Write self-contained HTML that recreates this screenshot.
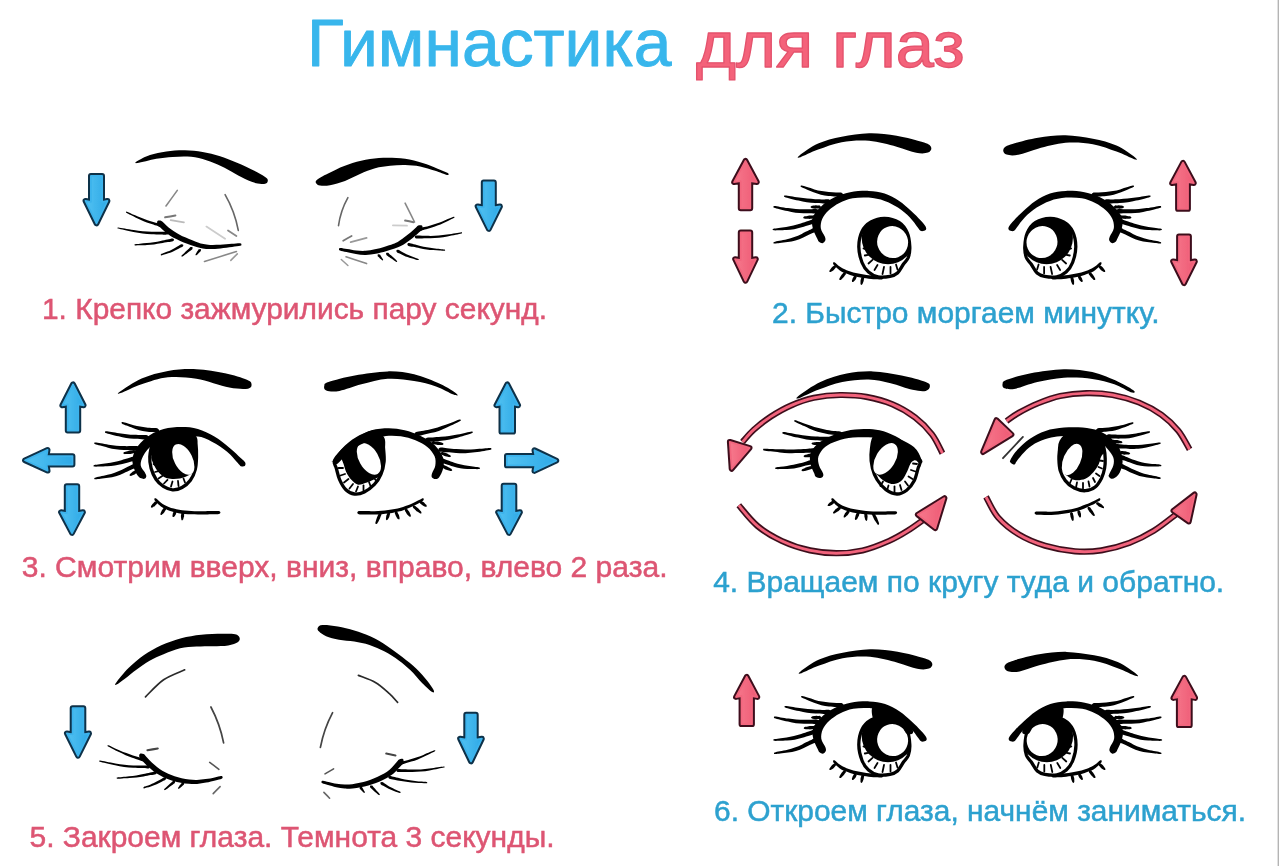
<!DOCTYPE html>
<html lang="ru">
<head>
<meta charset="utf-8">
<title>Гимнастика для глаз</title>
<style>
html,body{margin:0;padding:0;background:#fff;overflow:hidden}
svg{display:block}
text{font-family:"Liberation Sans",sans-serif}
.ttl{font-size:66.5px;stroke-linejoin:round}
.cap{font-size:29.6px;stroke-width:0.5px}
.red{fill:#dd5573;stroke:#dd5573}
.blue{fill:#2da1cf;stroke:#2da1cf}
.abo{fill:#0f3048;stroke:#0f3048;stroke-width:5.8;stroke-linejoin:round}
.ab{fill:url(#gb);stroke:#3cb3ec;stroke-width:1.8;stroke-linejoin:round}
.apo{fill:#3e101c;stroke:#3e101c;stroke-width:5.8;stroke-linejoin:round}
.ap{fill:url(#gp);stroke:#f2667e;stroke-width:1.8;stroke-linejoin:round}
.tk{stroke:#050505;stroke-linecap:round;fill:none}
</style>
</head>
<body>
<svg width="1279" height="866" viewBox="0 0 1279 866">
<defs>
<linearGradient id="gb" x1="0" y1="0" x2="1" y2="0"><stop offset="0" stop-color="#52c2f2"/><stop offset="1" stop-color="#2ea9e6"/></linearGradient>
<linearGradient id="gp" x1="0" y1="0" x2="1" y2="0"><stop offset="0" stop-color="#f6788c"/><stop offset="1" stop-color="#ee5a74"/></linearGradient>
<filter id="soft" x="0" y="0" width="1279" height="866" filterUnits="userSpaceOnUse"><feGaussianBlur stdDeviation="0.42"/></filter>
</defs>
<rect width="1279" height="866" fill="#ffffff"/>
<rect x="1277.6" y="0" width="1.4" height="866" fill="#b4b4b4"/>
<g filter="url(#soft)">
<!-- TITLE -->
<text class="ttl" x="307" y="66.2" textLength="364.4" lengthAdjust="spacingAndGlyphs" fill="#38b6ec" stroke="#38b6ec" stroke-width="0.9">Гимнастика</text>
<text class="ttl" style="font-size:65.5px" x="696" y="66.8" textLength="268.6" lengthAdjust="spacingAndGlyphs" fill="#f4627a" stroke="#e4536d" stroke-width="1.3">для глаз</text>
<!-- CAPTIONS -->
<text class="cap red" x="42" y="318.5" textLength="505" lengthAdjust="spacingAndGlyphs">1. Крепко зажмурились пару секунд.</text>
<text class="cap blue" x="772" y="322.7" textLength="387.5" lengthAdjust="spacingAndGlyphs">2. Быстро моргаем минутку.</text>
<text class="cap red" x="21.7" y="577" textLength="645.8" lengthAdjust="spacingAndGlyphs">3. Смотрим вверх, вниз, вправо, влево 2 раза.</text>
<text class="cap blue" x="713.2" y="592" textLength="511" lengthAdjust="spacingAndGlyphs">4. Вращаем по кругу туда и обратно.</text>
<text class="cap red" x="29.5" y="847" textLength="525" lengthAdjust="spacingAndGlyphs">5. Закроем глаза. Темнота 3 секунды.</text>
<text class="cap blue" x="714" y="820.5" textLength="532" lengthAdjust="spacingAndGlyphs">6. Откроем глаза, начнём заниматься.</text>
<g fill="#050505">
<g id="p1">
<path class="abo" d="M90.9 175.9L102.1 175.9L102.1 201.9L107.5 200.9L96.5 223.4L85.5 200.9L90.9 201.9Z"/><path class="ab" d="M90.9 175.9L102.1 175.9L102.1 201.9L107.5 200.9L96.5 223.4L85.5 200.9L90.9 201.9Z"/>
<path class="abo" d="M483.7 182.4L493.9 182.4L493.9 207.4L500 206.4L488.8 229L477.6 206.4L483.7 207.4Z"/><path class="ab" d="M483.7 182.4L493.9 182.4L493.9 207.4L500 206.4L488.8 229L477.6 206.4L483.7 207.4Z"/>
<path d="M136.9 161.3C139 160 145.1 156.6 150 155C154.9 153.4 160.5 152.3 166.3 151.5C172.1 150.7 178.9 150.2 185 150.3C191.1 150.4 196.8 150.9 202.6 151.9C208.4 152.9 214.3 154.4 220.1 156.3C225.9 158.2 232 160.7 237.6 163.1C243.2 165.5 249.2 168.3 253.8 170.6C258.4 172.9 262.8 175.3 265.1 176.9C267.4 178.5 267.7 178.9 267.8 180C267.9 181.1 267.6 182.8 265.9 183.4C264.2 184 261.1 184.3 257.6 183.6C254.1 182.9 249.5 181 245.1 179C240.7 177 235.9 173.9 231.3 171.5C226.7 169.1 222.4 166.7 217.6 164.6C212.8 162.5 207.6 160.3 202.6 159C197.6 157.7 192.5 156.8 187.5 156.5C182.5 156.2 177.7 156.6 172.5 157C167.3 157.4 162.1 157.8 156.3 158.8C150.5 159.8 140.7 162.7 137.5 163.1C134.3 163.5 134.8 162.7 136.9 161.3Z"/>
<path d="M316.1 180.7C316.9 179.6 317.9 178.8 321.3 176.9C324.7 175 331.1 171.7 336.3 169.4C341.5 167.1 346.9 164.8 352.5 163.1C358.1 161.4 364.1 159.9 370 159C375.9 158.1 381.8 157.8 387.6 157.8C393.5 157.8 399.3 157.9 405.1 158.8C410.9 159.7 417.2 161.4 422.6 163.1C428 164.8 433.4 167.1 437.6 168.8C441.8 170.5 446.2 172.1 447.8 173.1C449.4 174.1 449.1 175.4 447 175C444.9 174.6 439.6 172.2 435.1 170.8C430.6 169.4 425.1 167.5 420.1 166.5C415.1 165.5 410.1 165.1 405.1 165C400.1 164.9 395.1 165.2 390.1 165.8C385.1 166.4 380.1 166.9 375.1 168.3C370.1 169.7 365 171.9 360 174C355 176.1 350 179 345 180.9C340 182.8 334.2 184.4 330 185.2C325.8 186 322.3 185.8 320 185.5C317.7 185.2 316.9 184.2 316.3 183.4C315.7 182.6 315.3 181.8 316.1 180.7Z"/>
<path d="M157.5 221C156.8 221.7 157.1 223.8 157.6 224.9C158.1 226.1 159.3 226.6 160.6 227.8C161.8 228.9 163.4 230.5 165.1 231.9C166.7 233.2 168.5 234.6 170.5 235.9C172.4 237.1 174.6 238.1 176.8 239.2C179 240.3 181.4 241.4 183.7 242.4C186 243.3 188.4 244.2 190.5 244.9C192.7 245.7 194.5 246.4 196.6 246.9C198.6 247.5 200.4 248.1 202.7 248.4C204.9 248.8 207.1 249.1 210.1 249.1C213 249.1 216.8 248.8 220.5 248.4C224.2 248.1 228.8 247.4 232.1 247C235.4 246.5 238.7 246.2 240.2 245.8C241.8 245.4 241.4 244.8 241.4 244.4C241.3 243.9 241.6 243.3 240 243.2C238.3 243.1 235 243.6 231.7 243.8C228.5 244.1 223.8 244.6 220.2 244.8C216.6 244.9 212.9 245 210.1 244.9C207.3 244.8 205.5 244.4 203.5 244C201.4 243.6 199.8 243 198 242.4C196.1 241.8 194.3 241.1 192.3 240.3C190.2 239.5 187.9 238.6 185.8 237.6C183.6 236.6 181.2 235.5 179.2 234.4C177.2 233.3 175.3 232.3 173.5 231.1C171.7 230 170.2 228.8 168.6 227.5C167.1 226.3 165.6 224.8 164.4 223.6C163.2 222.5 162.6 221.3 161.4 220.9C160.3 220.4 158.1 220.3 157.5 221Z"/>
<path d="M162.6 226.1C162.8 225.7 162.6 224.9 161.7 224.4C160.8 223.9 159 223.6 157.2 223.1C155.4 222.6 152.9 221.9 150.7 221.2C148.6 220.6 146.5 219.9 144.3 219.1C142.2 218.3 140.1 217.4 137.9 216.5C135.8 215.6 133.3 214.5 131.4 213.7C129.6 212.8 127.8 211.9 126.9 211.7C126 211.4 126.1 211.8 126.1 211.9C126 212.1 125.6 212.2 126.3 212.7C127.1 213.3 129 214.1 130.8 215C132.6 216 135 217.2 137.1 218.2C139.3 219.3 141.4 220.3 143.6 221.2C145.7 222.1 147.9 222.8 150 223.5C152.1 224.3 154.6 225 156.4 225.6C158.2 226.2 159.9 227 160.9 227C161.9 227.1 162.5 226.5 162.6 226.1Z"/>
<path d="M168.4 233.2C168.4 232.7 168.3 232 167 231.8C165.7 231.6 163.2 231.8 160.7 231.8C158.1 231.8 154.7 231.9 151.7 231.8C148.7 231.7 145.7 231.6 142.7 231.3C139.7 231 136.7 230.6 133.7 230.1C130.7 229.7 127.2 229 124.7 228.5C122.1 228.1 119.5 227.5 118.3 227.4C117.1 227.3 117.7 227.7 117.6 227.9C117.6 228.1 117 228.2 118.1 228.6C119.2 228.9 121.8 229.5 124.4 230C126.9 230.6 130.4 231.4 133.4 232C136.4 232.5 139.5 233.1 142.5 233.5C145.5 233.9 148.6 234 151.6 234.2C154.6 234.3 158.1 234.4 160.7 234.4C163.2 234.5 165.7 234.8 167 234.6C168.3 234.4 168.4 233.7 168.4 233.2Z"/>
<path d="M174 239.5C173.9 239.1 173.4 238.4 172.3 238.4C171.2 238.4 169.4 239.1 167.5 239.5C165.5 239.9 162.9 240.5 160.6 241C158.3 241.4 156 241.9 153.7 242.2C151.4 242.6 149.1 242.8 146.8 243.1C144.5 243.3 141.9 243.5 139.9 243.7C137.9 243.9 136 244 135.1 244.2C134.2 244.4 134.5 244.6 134.5 244.8C134.5 245 134.2 245.3 135.1 245.4C136.1 245.5 138 245.3 140 245.3C142 245.2 144.7 245.1 147 244.9C149.3 244.8 151.7 244.7 154 244.4C156.3 244.1 158.7 243.7 161 243.3C163.3 242.9 166 242.4 168 242.1C170 241.7 171.9 241.6 172.9 241.2C173.9 240.8 174.1 240 174 239.5Z"/>
<path d="M183.2 244.7C183 244.3 182.1 244 181.3 244.2C180.6 244.3 179.8 245.1 178.7 245.7C177.6 246.4 176.2 247.2 174.9 247.9C173.7 248.6 172.4 249.3 171.2 249.9C170 250.5 168.7 251.1 167.5 251.6C166.2 252.1 164.8 252.7 163.7 253.1C162.7 253.6 161.6 253.9 161.1 254.2C160.6 254.5 160.7 254.8 160.7 255C160.8 255.2 160.9 255.4 161.5 255.4C162.1 255.3 163.1 254.9 164.2 254.6C165.4 254.2 166.8 253.8 168.2 253.3C169.5 252.9 170.8 252.4 172.1 251.9C173.4 251.4 174.7 250.7 176 250C177.3 249.4 178.8 248.6 179.9 248C181 247.5 182.1 247.2 182.7 246.6C183.2 246.1 183.5 245.1 183.2 244.7Z"/>
<path d="M192.5 247.3C192.2 246.9 191 247 190.5 247.1C190 247.3 189.8 247.8 189.3 248.2C188.9 248.7 188.2 249.3 187.7 249.8C187.1 250.3 186.5 250.8 186 251.3C185.4 251.8 184.9 252.4 184.4 252.9C183.8 253.4 183.2 254 182.7 254.5C182.3 254.9 181.8 255.3 181.6 255.6C181.4 256 181.4 256.3 181.5 256.5C181.7 256.6 182 256.7 182.4 256.6C182.7 256.4 183.2 256 183.7 255.7C184.2 255.3 184.9 254.8 185.6 254.3C186.2 253.9 186.8 253.4 187.4 253C188 252.5 188.6 252.1 189.2 251.6C189.8 251.1 190.5 250.6 191 250.2C191.5 249.8 192.1 249.8 192.3 249.3C192.5 248.8 192.8 247.7 192.5 247.3Z"/>
<path d="M200.7 249C200.3 248.7 199.1 249.1 198.7 249.2C198.3 249.4 198.5 249.6 198.3 249.9C198.1 250.2 197.9 250.5 197.7 250.8C197.5 251.1 197.2 251.4 197 251.8C196.8 252.1 196.7 252.4 196.5 252.7C196.3 253.1 196.1 253.4 195.9 253.7C195.7 254 195.6 254.2 195.5 254.4C195.5 254.7 195.5 255.1 195.6 255.3C195.8 255.4 196.2 255.3 196.5 255.2C196.7 255.1 196.8 254.9 197.1 254.7C197.3 254.5 197.6 254.2 197.9 253.9C198.2 253.7 198.5 253.4 198.8 253.1C199 252.9 199.3 252.6 199.5 252.3C199.8 252.1 200.1 251.8 200.3 251.5C200.5 251.3 200.8 251.4 200.9 251C200.9 250.6 201 249.3 200.7 249Z"/>
<path d="M177.3 190.4Q171.7 198.2 166 206" fill="none" stroke="#888" stroke-width="1.6" stroke-linecap="round"/>
<path d="M165.1 217.3Q170.2 216.4 175.4 215.4" fill="none" stroke="#777" stroke-width="2" stroke-linecap="round"/>
<path d="M170.7 220.1Q177.3 221.2 183.9 222.3" fill="none" stroke="#bbb" stroke-width="1.8" stroke-linecap="round"/>
<path d="M225.1 194.7Q234.7 211.4 238.3 230.4" fill="none" stroke="#666" stroke-width="1.6" stroke-linecap="round"/>
<path d="M206.4 226.6Q215.8 232.7 225.1 238.8" fill="none" stroke="#ccc" stroke-width="1.8" stroke-linecap="round"/>
<path d="M228 230.4Q232.2 233.2 236.4 236" fill="none" stroke="#888" stroke-width="1.8" stroke-linecap="round"/>
<path d="M204.5 261.4Q220.4 256.5 236.4 251.6" fill="none" stroke="#888" stroke-width="1.6" stroke-linecap="round"/>
<path d="M230.8 260.4Q234.1 257.1 237.3 253.9" fill="none" stroke="#999" stroke-width="1.5" stroke-linecap="round"/>
<path d="M422.2 225.7C421.5 225 419.4 225.1 418.2 225.5C417.1 226 416.4 227.2 415.2 228.3C413.9 229.4 412.3 230.9 410.8 232.2C409.4 233.4 407.7 234.7 406.3 235.8C404.9 236.9 403.7 237.8 402.4 238.8C401.1 239.7 400 240.6 398.4 241.4C396.9 242.3 395.2 243.1 392.9 244C390.6 244.8 387.7 245.8 384.7 246.7C381.7 247.6 378.1 248.7 374.9 249.3C371.8 250 368.7 250.6 365.6 250.8C362.5 251 359.4 250.8 356.3 250.5C353.2 250.2 349.7 249.4 347.1 249C344.5 248.6 341.9 247.9 340.6 247.9C339.2 247.9 339.1 248.5 339 248.9C338.9 249.4 338.8 249.9 340 250.5C341.3 251 343.8 251.5 346.5 252.1C349.1 252.7 352.6 253.6 355.9 254.1C359.1 254.6 362.5 255.1 365.8 255C369.1 254.9 372.4 254.3 375.8 253.7C379.2 253.1 382.9 252.1 386 251.3C389.2 250.4 392.2 249.5 394.7 248.6C397.1 247.8 399 246.9 400.8 246C402.6 245.1 404 244.2 405.5 243.2C406.9 242.2 408.2 241.3 409.7 240.2C411.2 239.1 412.9 237.7 414.4 236.4C416 235.2 417.7 233.6 418.9 232.5C420.2 231.3 421.4 230.8 422 229.7C422.5 228.6 422.8 226.4 422.2 225.7Z"/>
<path d="M418.7 229.9C418.9 230.3 419.5 230.9 420.5 230.9C421.5 230.8 423.1 230.1 424.8 229.6C426.6 229.1 429 228.4 431.1 227.7C433.2 227.1 435.3 226.4 437.4 225.6C439.5 224.8 441.5 223.9 443.6 222.9C445.7 222 448.1 220.8 449.8 220C451.6 219.1 453.4 218.3 454.1 217.8C454.9 217.4 454.5 217.2 454.4 217.1C454.4 216.9 454.5 216.5 453.7 216.8C452.8 217 451 217.8 449.2 218.6C447.4 219.3 445 220.4 442.9 221.2C440.8 222 438.7 222.9 436.6 223.6C434.5 224.3 432.5 224.9 430.4 225.4C428.3 226 425.9 226.6 424.1 227.1C422.4 227.5 420.6 227.7 419.7 228.1C418.8 228.6 418.6 229.4 418.7 229.9Z"/>
<path d="M414.9 237C414.9 237.5 415.1 238.2 416.3 238.4C417.5 238.6 419.8 238.4 422.1 238.4C424.5 238.3 427.7 238.4 430.5 238.3C433.3 238.2 436.1 238.1 439 237.8C441.8 237.5 444.6 237 447.4 236.4C450.1 235.9 453.3 235.2 455.7 234.7C458.1 234.2 460.5 233.7 461.5 233.4C462.6 233.1 462 232.9 462 232.7C462 232.5 462.4 232.1 461.3 232.2C460.2 232.3 457.8 232.8 455.4 233.2C453 233.6 449.8 234.2 447 234.6C444.3 235 441.5 235.4 438.7 235.6C436 235.8 433.2 235.9 430.5 235.9C427.7 235.9 424.5 235.8 422.2 235.8C419.8 235.7 417.5 235.4 416.3 235.6C415.1 235.8 414.9 236.5 414.9 237Z"/>
<path d="M407.4 244.2C407.3 244.6 407.5 245.4 408.5 245.9C409.4 246.3 411.3 246.4 413.1 246.8C415 247.2 417.6 247.8 419.8 248.2C422 248.6 424.3 249.1 426.5 249.4C428.7 249.7 430.9 249.9 433.2 250C435.4 250.2 437.9 250.4 439.8 250.5C441.7 250.6 443.6 250.8 444.4 250.7C445.3 250.6 445.1 250.4 445.1 250.2C445.1 250 445.4 249.7 444.6 249.5C443.7 249.3 441.8 249.2 439.9 248.9C438.1 248.7 435.5 248.5 433.4 248.2C431.2 247.9 429 247.6 426.8 247.2C424.6 246.8 422.5 246.4 420.3 245.9C418.1 245.4 415.6 244.7 413.7 244.3C411.9 243.8 410.2 243.2 409.1 243.1C408.1 243.1 407.5 243.7 407.4 244.2Z"/>
<path d="M396.4 250.4C396.1 250.8 396.4 251.7 397 252.2C397.5 252.8 398.6 253 399.7 253.5C400.8 254 402.3 254.8 403.6 255.4C404.9 256 406.2 256.6 407.5 257.1C408.8 257.6 410.1 257.9 411.4 258.3C412.7 258.7 414.2 259.1 415.3 259.4C416.4 259.7 417.4 260 418 260.1C418.6 260.1 418.7 259.9 418.8 259.7C418.8 259.5 418.9 259.2 418.4 258.9C417.9 258.6 416.8 258.3 415.8 257.9C414.7 257.5 413.3 257 412 256.6C410.8 256.1 409.6 255.6 408.3 255C407.1 254.5 405.8 253.9 404.6 253.2C403.4 252.6 401.9 251.8 400.9 251.2C399.8 250.6 399 249.9 398.2 249.8C397.5 249.6 396.6 249.9 396.4 250.4Z"/>
<path d="M386.2 253C385.9 253.4 386.2 254.5 386.4 255C386.7 255.5 387.2 255.5 387.7 255.9C388.2 256.3 388.9 256.8 389.5 257.2C390.1 257.6 390.7 258.1 391.3 258.5C391.9 258.9 392.5 259.3 393.1 259.8C393.7 260.2 394.4 260.7 394.9 261C395.4 261.4 395.9 261.7 396.2 261.9C396.6 262 396.9 261.9 397.1 261.8C397.2 261.6 397.2 261.3 397 260.9C396.8 260.6 396.3 260.3 395.9 259.8C395.4 259.4 394.8 258.8 394.3 258.3C393.7 257.8 393.2 257.3 392.6 256.8C392.1 256.3 391.5 255.8 391 255.3C390.4 254.8 389.8 254.3 389.3 253.9C388.9 253.4 388.7 253 388.2 252.8C387.7 252.7 386.5 252.7 386.2 253Z"/>
<path d="M377.9 254.3C377.5 254.6 377.7 255.9 377.7 256.3C377.8 256.7 378.1 256.6 378.3 256.8C378.5 257 378.8 257.3 379.1 257.6C379.3 257.8 379.6 258.1 379.9 258.4C380.1 258.6 380.4 258.8 380.7 259.1C381 259.3 381.3 259.6 381.5 259.8C381.8 260 381.9 260.2 382.1 260.3C382.4 260.4 382.8 260.5 383 260.4C383.1 260.2 383.1 259.8 383.1 259.5C383 259.3 382.9 259.1 382.7 258.8C382.5 258.6 382.3 258.2 382.1 257.9C381.9 257.6 381.7 257.2 381.5 256.9C381.3 256.6 381.1 256.3 380.9 256C380.7 255.7 380.5 255.4 380.3 255.1C380.1 254.9 380.3 254.6 379.9 254.5C379.5 254.4 378.3 254 377.9 254.3Z"/>
<path d="M347.9 197.6Q340.5 210.8 338.5 225.7" fill="none" stroke="#666" stroke-width="1.6" stroke-linecap="round"/>
<path d="M405.1 203.2Q409.8 212.6 414.5 222" fill="none" stroke="#888" stroke-width="1.6" stroke-linecap="round"/>
<path d="M405.1 220.6Q409.3 221.4 413.5 222.3" fill="none" stroke="#777" stroke-width="2" stroke-linecap="round"/>
<path d="M392.9 225.3Q399.9 225.5 407 225.7" fill="none" stroke="#ccc" stroke-width="1.8" stroke-linecap="round"/>
<path d="M343.2 240.7Q347.4 238.3 351.6 236" fill="none" stroke="#777" stroke-width="1.8" stroke-linecap="round"/>
<path d="M350.7 242.2Q358.6 240.1 366.6 237.9" fill="none" stroke="#999" stroke-width="1.8" stroke-linecap="round"/>
<path d="M346 256.7Q356.3 260.1 366.6 263.6" fill="none" stroke="#888" stroke-width="1.6" stroke-linecap="round"/>
<path d="M341.3 259.5Q344.6 262.5 347.9 265.5" fill="none" stroke="#999" stroke-width="1.5" stroke-linecap="round"/>
</g>
<g id="p2">
<path class="apo" d="M740.7 208.3L750.3 208.3L750.3 181.1L756.9 182.1L745.5 160.9L734.1 182.1L740.7 181.1Z"/><path class="ap" d="M740.7 208.3L750.3 208.3L750.3 181.1L756.9 182.1L745.5 160.9L734.1 182.1L740.7 181.1Z"/>
<path class="apo" d="M740.7 232.4L750.3 232.4L750.3 260.1L755.9 259.1L745.5 280.8L735.1 259.1L740.7 260.1Z"/><path class="ap" d="M740.7 232.4L750.3 232.4L750.3 260.1L755.9 259.1L745.5 280.8L735.1 259.1L740.7 260.1Z"/>
<path class="apo" d="M1178 208.9L1188 208.9L1188 182.1L1193.9 183.1L1183 162.8L1172.1 183.1L1178 182.1Z"/><path class="ap" d="M1178 208.9L1188 208.9L1188 182.1L1193.9 183.1L1183 162.8L1172.1 183.1L1178 182.1Z"/>
<path class="apo" d="M1179 236.3L1189 236.3L1189 262.4L1194.9 261.4L1184 283.2L1173.1 261.4L1179 262.4Z"/><path class="ap" d="M1179 236.3L1189 236.3L1189 262.4L1194.9 261.4L1184 283.2L1173.1 261.4L1179 262.4Z"/>
<g>
<g transform="translate(0 0)">
<path d="M799.5 155.4C802.4 153.1 811.1 146.6 818.1 143.5C825.1 140.4 833.2 138.4 841.7 136.7C850.2 135 860 133.5 869.1 133.3C878.2 133.1 887.4 134.1 896.6 135.7C905.8 137.2 918.3 140.6 924.1 142.6C929.9 144.6 930.6 145.8 931.2 147.5C931.9 149.2 930.5 151.7 928 152.6C925.5 153.5 921.4 153.8 916.2 152.8C911 151.8 904.5 148.7 896.6 146.7C888.8 144.7 878.2 141.6 869.1 140.8C860 140.1 850.2 140.7 841.7 142.2C833.2 143.7 825 147.1 818.1 149.6C811.2 152.1 803.6 156.2 800.5 157.2C797.4 158.2 796.6 157.7 799.5 155.4Z"/>
</g>
<g transform="translate(0 0)">
<path d="M884.6 218.3C889.3 218.4 895.2 220.1 899 222.5C902.8 224.9 905.5 228.9 907.3 233C909.1 237.1 909.6 242.7 909.8 246.8C910 250.9 909.3 254.6 908.3 257.5C907.2 260.4 905.3 261.4 903.5 264C901.7 266.6 899.8 270.9 897.5 273C895.2 275.1 893.2 275.7 890 276.3C886.8 276.9 881.6 277.5 878 276.8C874.4 276.1 871.2 274.4 868.5 272C865.8 269.6 863.6 266.7 862 262.5C860.4 258.3 858.8 252 858.8 246.8C858.8 241.6 860 235.6 862 231.5C864 227.4 867.2 224.2 871 222C874.8 219.8 879.9 218.2 884.6 218.3Z" fill="#fff" stroke="#050505" stroke-width="3.3"/>
<clipPath id="c1"><path d="M884.6 218.3C889.3 218.4 895.2 220.1 899 222.5C902.8 224.9 905.5 228.9 907.3 233C909.1 237.1 909.6 242.7 909.8 246.8C910 250.9 909.3 254.6 908.3 257.5C907.2 260.4 905.3 261.4 903.5 264C901.7 266.6 899.8 270.9 897.5 273C895.2 275.1 893.2 275.7 890 276.3C886.8 276.9 881.6 277.5 878 276.8C874.4 276.1 871.2 274.4 868.5 272C865.8 269.6 863.6 266.7 862 262.5C860.4 258.3 858.8 252 858.8 246.8C858.8 241.6 860 235.6 862 231.5C864 227.4 867.2 224.2 871 222C874.8 219.8 879.9 218.2 884.6 218.3Z"/></clipPath>
<circle cx="888" cy="238" r="26.3" clip-path="url(#c1)"/>
<path d="M863.5 248.5L867.5 250" class="tk" stroke-width="1.8"/>
<path d="M864.8 255.5L869.3 254.6" class="tk" stroke-width="1.8"/>
<path d="M868.5 263.5L872.5 259.8" class="tk" stroke-width="1.8"/>
<path d="M874.5 270L877.5 265" class="tk" stroke-width="1.8"/>
<path d="M882.5 274L884 267" class="tk" stroke-width="1.8"/>
<path d="M890.5 273.5L890.5 267" class="tk" stroke-width="1.8"/>
<path d="M897.5 269.5L896 264.5" class="tk" stroke-width="1.8"/>
<ellipse cx="892.6" cy="242.1" rx="15.4" ry="16" fill="#fff" transform="rotate(-20 892.6 242.1)"/>
<path d="M833.2 262.6C833 262.9 833 263.7 833.3 264.3C833.6 264.9 834.3 265.4 835.1 266.2C835.8 266.9 836.8 268 837.8 268.8C838.9 269.7 840.1 270.7 841.3 271.4C842.6 272.1 844 272.7 845.4 273.3C846.9 273.9 848.5 274.4 850.1 275C851.7 275.5 853.3 275.9 855 276.4C856.7 276.8 858.6 277.1 860.4 277.5C862.2 277.8 864.3 278.1 866 278.3C867.8 278.6 869.5 278.8 871.1 279C872.7 279.2 874.2 279.3 875.5 279.3C876.9 279.4 878.3 279.4 879.3 279.5C880.4 279.5 881.2 279.7 881.9 279.5C882.6 279.3 883.5 278.6 883.5 278.1C883.5 277.6 882.7 276.8 882.1 276.5C881.4 276.2 880.5 276.4 879.5 276.3C878.4 276.3 877.1 276.2 875.8 276.1C874.4 276 873 275.8 871.5 275.6C869.9 275.4 868.3 275.2 866.5 275C864.8 274.7 862.8 274.4 861 274.1C859.2 273.8 857.5 273.4 855.8 273C854.1 272.7 852.6 272.2 851.1 271.8C849.5 271.3 848 270.8 846.6 270.3C845.3 269.7 844 269.2 842.9 268.6C841.7 268 840.7 267.3 839.7 266.5C838.7 265.8 837.7 264.9 836.9 264.2C836.1 263.5 835.5 262.8 834.9 262.5C834.3 262.3 833.5 262.3 833.2 262.6Z"/>
<path d="M835.8 265.7C835.5 265.4 834.2 265.6 833.8 265.7C833.4 265.8 833.4 266 833.2 266.3C832.9 266.5 832.6 266.8 832.2 267.1C831.9 267.4 831.6 267.6 831.3 267.9C831.1 268.2 830.9 268.6 830.6 269C830.4 269.3 830.1 269.7 829.9 270C829.7 270.3 829.5 270.4 829.5 270.8C829.4 271.1 829.3 271.8 829.5 272C829.7 272.2 830.4 272.1 830.7 272C831.1 272 831.2 271.8 831.5 271.6C831.8 271.4 832.2 271.1 832.5 270.9C832.9 270.6 833.3 270.4 833.6 270.2C833.9 269.9 834.1 269.6 834.4 269.3C834.7 268.9 835 268.6 835.2 268.3C835.5 268.1 835.7 268.1 835.8 267.7C835.9 267.3 836.1 266 835.8 265.7Z"/>
<path d="M845.6 272.3C845.2 272 844 272.4 843.6 272.5C843.2 272.7 843.2 273 843 273.3C842.7 273.6 842.4 274 842.1 274.3C841.8 274.7 841.4 275 841.2 275.4C840.9 275.8 840.7 276.2 840.5 276.6C840.3 277 840 277.5 839.8 277.8C839.6 278.2 839.4 278.4 839.4 278.7C839.3 279.1 839.3 279.8 839.5 280C839.8 280.2 840.5 280 840.8 279.9C841.1 279.7 841.3 279.5 841.6 279.2C841.9 279 842.3 278.6 842.6 278.3C843 278 843.3 277.7 843.6 277.3C843.9 277 844.2 276.6 844.4 276.2C844.7 275.8 845 275.4 845.3 275.1C845.5 274.7 845.8 274.7 845.8 274.3C845.9 273.8 845.9 272.6 845.6 272.3Z"/>
<path d="M856.1 275.5C855.7 275.3 854.6 275.8 854.2 276C853.8 276.2 854 276.3 853.8 276.6C853.6 276.8 853.4 277.1 853.2 277.4C853.1 277.7 852.8 277.9 852.7 278.2C852.5 278.5 852.5 278.8 852.4 279.2C852.3 279.5 852.2 279.9 852.1 280.1C852 280.4 851.9 280.5 851.9 280.8C852 281.2 852 281.9 852.2 282.1C852.5 282.2 853.2 281.9 853.5 281.8C853.8 281.6 853.8 281.5 854 281.3C854.2 281.1 854.5 280.8 854.7 280.5C854.9 280.3 855.2 280.1 855.4 279.8C855.6 279.5 855.7 279.2 855.9 278.9C856 278.6 856.2 278.3 856.3 278C856.4 277.8 856.6 277.8 856.6 277.4C856.6 277 856.5 275.7 856.1 275.5Z"/>
<path d="M863 276.6C862.5 276.5 861.6 277.4 861.3 277.7C861 278 861.2 278.2 861.1 278.5C861 278.8 860.9 279.2 860.8 279.6C860.7 279.9 860.6 280.3 860.5 280.7C860.5 281 860.5 281.4 860.5 281.8C860.5 282.2 860.5 282.7 860.5 283C860.5 283.3 860.4 283.5 860.5 283.8C860.6 284.1 860.9 284.8 861.2 284.9C861.5 284.9 862 284.4 862.3 284.2C862.5 284 862.5 283.8 862.7 283.5C862.8 283.2 863 282.8 863.1 282.4C863.3 282 863.5 281.7 863.6 281.3C863.7 281 863.7 280.6 863.8 280.2C863.8 279.8 863.9 279.4 864 279.1C864 278.8 864.2 278.7 864.1 278.3C863.9 277.9 863.5 276.7 863 276.6Z"/>
</g>
<g transform="translate(0 0)">
<path d="M819 241.8C818.1 241.1 818.3 241.1 817.3 238.8C816.3 236.5 813.6 231.8 812.8 228.2C812 224.6 811.3 221.1 812.6 217.5C813.9 213.9 817 210.2 820.6 206.9C824.2 203.6 829.2 200 834.1 197.6C839 195.2 844.3 193.4 850.1 192.3C855.9 191.2 863 190.7 868.7 190.9C874.5 191.1 879.5 191.9 884.6 193.6C889.7 195.3 894.8 198 899.2 200.9C903.6 203.8 907.7 207.7 911.2 210.9C914.8 214.1 918.1 217.6 920.5 220.2C922.9 222.8 924.8 224.8 925.6 226.4C926.5 228 926.4 229.2 925.6 230C924.8 230.8 922.3 231.4 921 231C919.7 230.6 919.6 229.8 917.8 227.5C915.9 225.2 913.2 220.8 909.9 217.5C906.6 214.2 902.1 210.4 897.9 207.6C893.7 204.8 889.5 202.6 884.6 200.9C879.7 199.2 874 198 868.7 197.6C863.4 197.2 857.6 197.4 852.7 198.3C847.8 199.2 843.4 200.9 839.4 202.9C835.4 204.9 831.7 207.5 828.8 210.2C825.9 212.9 823.5 215.9 822.2 218.9C820.9 221.9 820.4 225.3 820.8 228.2C821.2 231.1 824 234.4 824.8 236.5C825.5 238.6 825.7 239.4 825.3 240.5C824.9 241.6 823.5 243 822.5 243.2C821.5 243.4 819.9 242.5 819 241.8Z"/>
<path d="M843.1 194.8C843.1 194.1 842.3 193 841.1 192.6C839.9 192.2 838.1 192.5 836 192.4C833.9 192.3 831.2 192.2 828.8 192C826.4 191.8 824 191.5 821.6 191.1C819.2 190.6 816.8 190 814.4 189.4C812 188.7 809.1 187.7 807 187.1C804.9 186.4 802.8 185.7 801.8 185.5C800.7 185.3 800.8 185.7 800.7 186C800.6 186.3 800.3 186.5 801.2 187.1C802.1 187.6 804.2 188.4 806.2 189.3C808.3 190.2 811 191.4 813.5 192.3C815.9 193.2 818.4 194.1 820.9 194.7C823.3 195.3 825.9 195.6 828.4 195.9C830.8 196.1 833.7 196.3 835.8 196.4C837.8 196.6 839.7 197.1 840.9 196.8C842.1 196.5 843.1 195.5 843.1 194.8Z"/>
<path d="M831.1 201.7C831.1 201 830.4 199.9 829.1 199.5C827.8 199.1 825.7 199.5 823.4 199.4C821.1 199.3 817.9 199.3 815.2 199.2C812.5 199 809.9 198.9 807.2 198.6C804.5 198.3 801.8 198 799.1 197.6C796.3 197.3 793.2 196.7 790.9 196.3C788.5 196 786.2 195.5 785.1 195.5C783.9 195.4 784.1 195.8 784.1 196.1C784 196.4 783.7 196.7 784.7 197.1C785.8 197.6 788.1 198.1 790.4 198.7C792.7 199.2 795.8 200 798.5 200.6C801.2 201.2 804 201.9 806.7 202.3C809.5 202.7 812.3 202.8 815 203C817.7 203.2 820.9 203.3 823.2 203.4C825.5 203.5 827.6 204 828.9 203.7C830.2 203.4 831.1 202.4 831.1 201.7Z"/>
<path d="M819.1 211.3C819.1 210.6 818.3 209.5 817 209.2C815.7 208.9 813.7 209.3 811.5 209.3C809.2 209.3 806.2 209.4 803.6 209.3C801 209.2 798.4 209.1 795.8 208.9C793.2 208.7 790.6 208.5 788 208.1C785.4 207.8 782.3 207.2 780.1 206.9C777.8 206.5 775.6 206.1 774.5 206.1C773.4 206 773.5 206.5 773.5 206.7C773.4 207 773.1 207.3 774.1 207.7C775.2 208.1 777.4 208.6 779.6 209.2C781.8 209.8 784.8 210.5 787.5 211.1C790.1 211.7 792.8 212.3 795.5 212.7C798.1 213 800.8 213.1 803.5 213.2C806.2 213.3 809.2 213.3 811.5 213.3C813.7 213.4 815.7 213.7 817 213.4C818.3 213.1 819.1 212 819.1 211.3Z"/>
<path d="M816 220.6C815.8 220 814.7 219.2 813.3 219.3C812 219.4 810.2 220.4 808.1 221.1C806 221.8 803.2 222.8 800.7 223.6C798.3 224.3 795.9 225 793.4 225.6C791 226.1 788.6 226.6 786.1 227C783.7 227.3 780.8 227.6 778.7 227.9C776.6 228.2 774.5 228.4 773.5 228.7C772.5 228.9 772.7 229.3 772.8 229.6C772.8 229.8 772.6 230.2 773.7 230.3C774.7 230.5 776.8 230.3 778.9 230.3C781.1 230.2 784 230.2 786.5 230C789 229.8 791.6 229.7 794.2 229.2C796.7 228.8 799.3 228 801.8 227.3C804.4 226.6 807.2 225.6 809.4 225C811.5 224.3 813.6 224 814.7 223.3C815.8 222.6 816.2 221.3 816 220.6Z"/>
<path d="M817.4 228.4C817.1 227.7 815.9 227.1 814.6 227.4C813.2 227.7 811.4 229.1 809.3 230.1C807.1 231.2 804.2 232.7 801.7 233.9C799.2 235 796.8 236.1 794.3 237C791.9 237.9 789.4 238.5 787 239.2C784.5 239.8 781.6 240.3 779.4 240.8C777.3 241.2 775.2 241.6 774.2 242C773.2 242.3 773.4 242.7 773.5 242.9C773.5 243.2 773.4 243.6 774.4 243.6C775.5 243.7 777.6 243.4 779.8 243.1C782 242.9 785 242.6 787.6 242.1C790.2 241.7 792.9 241.3 795.5 240.5C798.1 239.7 800.7 238.5 803.3 237.4C805.9 236.3 808.9 234.8 811 233.8C813.2 232.7 815.4 232.1 816.4 231.2C817.5 230.3 817.7 229 817.4 228.4Z"/>
<path d="M821 207C821 206.5 819.9 205.8 819.5 205.5C819.1 205.2 818.9 205.5 818.5 205.4C818 205.4 817.5 205.4 817 205.4C816.5 205.4 816 205.3 815.5 205.3C815 205.4 814.5 205.5 814 205.6C813.5 205.6 813 205.7 812.5 205.8C812.1 205.8 811.8 205.8 811.5 206C811.2 206.2 810.5 206.7 810.5 207C810.5 207.3 811.2 207.8 811.5 208C811.8 208.2 812.1 208.2 812.5 208.2C813 208.3 813.5 208.4 814 208.4C814.5 208.5 815 208.6 815.5 208.7C816 208.7 816.5 208.6 817 208.6C817.5 208.6 818 208.6 818.5 208.6C818.9 208.5 819.1 208.8 819.5 208.5C819.9 208.2 821 207.5 821 207Z"/>
<path d="M816 216.7C816 216.2 814.9 215.5 814.4 215.3C813.9 215.1 813.6 215.3 813 215.4C812.5 215.4 811.8 215.4 811.1 215.4C810.5 215.5 809.9 215.5 809.2 215.5C808.6 215.6 808 215.8 807.3 215.9C806.7 216 806 216.2 805.4 216.3C804.9 216.4 804.5 216.4 804.1 216.6C803.7 216.8 803.2 217.3 803.2 217.7C803.2 218 803.9 218.4 804.3 218.6C804.7 218.8 805.1 218.7 805.6 218.7C806.2 218.8 806.9 218.8 807.6 218.8C808.2 218.8 808.8 218.9 809.5 218.9C810.1 218.8 810.7 218.7 811.4 218.7C812 218.6 812.7 218.5 813.3 218.5C813.8 218.4 814.2 218.6 814.6 218.3C815.1 218 816 217.2 816 216.7Z"/>
</g>
</g>
<g transform="translate(1934.6 0) scale(-1 1)">
<g transform="translate(0 2)">
<path d="M799.5 155.4C802.4 153.1 811.1 146.6 818.1 143.5C825.1 140.4 833.2 138.4 841.7 136.7C850.2 135 860 133.5 869.1 133.3C878.2 133.1 887.4 134.1 896.6 135.7C905.8 137.2 918.3 140.6 924.1 142.6C929.9 144.6 930.6 145.8 931.2 147.5C931.9 149.2 930.5 151.7 928 152.6C925.5 153.5 921.4 153.8 916.2 152.8C911 151.8 904.5 148.7 896.6 146.7C888.8 144.7 878.2 141.6 869.1 140.8C860 140.1 850.2 140.7 841.7 142.2C833.2 143.7 825 147.1 818.1 149.6C811.2 152.1 803.6 156.2 800.5 157.2C797.4 158.2 796.6 157.7 799.5 155.4Z"/>
</g>
<g transform="translate(0 0)">
<path d="M884.6 218.3C889.3 218.4 895.2 220.1 899 222.5C902.8 224.9 905.5 228.9 907.3 233C909.1 237.1 909.6 242.7 909.8 246.8C910 250.9 909.3 254.6 908.3 257.5C907.2 260.4 905.3 261.4 903.5 264C901.7 266.6 899.8 270.9 897.5 273C895.2 275.1 893.2 275.7 890 276.3C886.8 276.9 881.6 277.5 878 276.8C874.4 276.1 871.2 274.4 868.5 272C865.8 269.6 863.6 266.7 862 262.5C860.4 258.3 858.8 252 858.8 246.8C858.8 241.6 860 235.6 862 231.5C864 227.4 867.2 224.2 871 222C874.8 219.8 879.9 218.2 884.6 218.3Z" fill="#fff" stroke="#050505" stroke-width="3.3"/>
<clipPath id="c2"><path d="M884.6 218.3C889.3 218.4 895.2 220.1 899 222.5C902.8 224.9 905.5 228.9 907.3 233C909.1 237.1 909.6 242.7 909.8 246.8C910 250.9 909.3 254.6 908.3 257.5C907.2 260.4 905.3 261.4 903.5 264C901.7 266.6 899.8 270.9 897.5 273C895.2 275.1 893.2 275.7 890 276.3C886.8 276.9 881.6 277.5 878 276.8C874.4 276.1 871.2 274.4 868.5 272C865.8 269.6 863.6 266.7 862 262.5C860.4 258.3 858.8 252 858.8 246.8C858.8 241.6 860 235.6 862 231.5C864 227.4 867.2 224.2 871 222C874.8 219.8 879.9 218.2 884.6 218.3Z"/></clipPath>
<circle cx="888" cy="238" r="26.3" clip-path="url(#c2)"/>
<path d="M863.5 248.5L867.5 250" class="tk" stroke-width="1.8"/>
<path d="M864.8 255.5L869.3 254.6" class="tk" stroke-width="1.8"/>
<path d="M868.5 263.5L872.5 259.8" class="tk" stroke-width="1.8"/>
<path d="M874.5 270L877.5 265" class="tk" stroke-width="1.8"/>
<path d="M882.5 274L884 267" class="tk" stroke-width="1.8"/>
<path d="M890.5 273.5L890.5 267" class="tk" stroke-width="1.8"/>
<path d="M897.5 269.5L896 264.5" class="tk" stroke-width="1.8"/>
<ellipse cx="892.6" cy="242.1" rx="15.4" ry="16" fill="#fff" transform="rotate(-20 892.6 242.1)"/>
<path d="M833.2 262.6C833 262.9 833 263.7 833.3 264.3C833.6 264.9 834.3 265.4 835.1 266.2C835.8 266.9 836.8 268 837.8 268.8C838.9 269.7 840.1 270.7 841.3 271.4C842.6 272.1 844 272.7 845.4 273.3C846.9 273.9 848.5 274.4 850.1 275C851.7 275.5 853.3 275.9 855 276.4C856.7 276.8 858.6 277.1 860.4 277.5C862.2 277.8 864.3 278.1 866 278.3C867.8 278.6 869.5 278.8 871.1 279C872.7 279.2 874.2 279.3 875.5 279.3C876.9 279.4 878.3 279.4 879.3 279.5C880.4 279.5 881.2 279.7 881.9 279.5C882.6 279.3 883.5 278.6 883.5 278.1C883.5 277.6 882.7 276.8 882.1 276.5C881.4 276.2 880.5 276.4 879.5 276.3C878.4 276.3 877.1 276.2 875.8 276.1C874.4 276 873 275.8 871.5 275.6C869.9 275.4 868.3 275.2 866.5 275C864.8 274.7 862.8 274.4 861 274.1C859.2 273.8 857.5 273.4 855.8 273C854.1 272.7 852.6 272.2 851.1 271.8C849.5 271.3 848 270.8 846.6 270.3C845.3 269.7 844 269.2 842.9 268.6C841.7 268 840.7 267.3 839.7 266.5C838.7 265.8 837.7 264.9 836.9 264.2C836.1 263.5 835.5 262.8 834.9 262.5C834.3 262.3 833.5 262.3 833.2 262.6Z"/>
<path d="M835.8 265.7C835.5 265.4 834.2 265.6 833.8 265.7C833.4 265.8 833.4 266 833.2 266.3C832.9 266.5 832.6 266.8 832.2 267.1C831.9 267.4 831.6 267.6 831.3 267.9C831.1 268.2 830.9 268.6 830.6 269C830.4 269.3 830.1 269.7 829.9 270C829.7 270.3 829.5 270.4 829.5 270.8C829.4 271.1 829.3 271.8 829.5 272C829.7 272.2 830.4 272.1 830.7 272C831.1 272 831.2 271.8 831.5 271.6C831.8 271.4 832.2 271.1 832.5 270.9C832.9 270.6 833.3 270.4 833.6 270.2C833.9 269.9 834.1 269.6 834.4 269.3C834.7 268.9 835 268.6 835.2 268.3C835.5 268.1 835.7 268.1 835.8 267.7C835.9 267.3 836.1 266 835.8 265.7Z"/>
<path d="M845.6 272.3C845.2 272 844 272.4 843.6 272.5C843.2 272.7 843.2 273 843 273.3C842.7 273.6 842.4 274 842.1 274.3C841.8 274.7 841.4 275 841.2 275.4C840.9 275.8 840.7 276.2 840.5 276.6C840.3 277 840 277.5 839.8 277.8C839.6 278.2 839.4 278.4 839.4 278.7C839.3 279.1 839.3 279.8 839.5 280C839.8 280.2 840.5 280 840.8 279.9C841.1 279.7 841.3 279.5 841.6 279.2C841.9 279 842.3 278.6 842.6 278.3C843 278 843.3 277.7 843.6 277.3C843.9 277 844.2 276.6 844.4 276.2C844.7 275.8 845 275.4 845.3 275.1C845.5 274.7 845.8 274.7 845.8 274.3C845.9 273.8 845.9 272.6 845.6 272.3Z"/>
<path d="M856.1 275.5C855.7 275.3 854.6 275.8 854.2 276C853.8 276.2 854 276.3 853.8 276.6C853.6 276.8 853.4 277.1 853.2 277.4C853.1 277.7 852.8 277.9 852.7 278.2C852.5 278.5 852.5 278.8 852.4 279.2C852.3 279.5 852.2 279.9 852.1 280.1C852 280.4 851.9 280.5 851.9 280.8C852 281.2 852 281.9 852.2 282.1C852.5 282.2 853.2 281.9 853.5 281.8C853.8 281.6 853.8 281.5 854 281.3C854.2 281.1 854.5 280.8 854.7 280.5C854.9 280.3 855.2 280.1 855.4 279.8C855.6 279.5 855.7 279.2 855.9 278.9C856 278.6 856.2 278.3 856.3 278C856.4 277.8 856.6 277.8 856.6 277.4C856.6 277 856.5 275.7 856.1 275.5Z"/>
<path d="M863 276.6C862.5 276.5 861.6 277.4 861.3 277.7C861 278 861.2 278.2 861.1 278.5C861 278.8 860.9 279.2 860.8 279.6C860.7 279.9 860.6 280.3 860.5 280.7C860.5 281 860.5 281.4 860.5 281.8C860.5 282.2 860.5 282.7 860.5 283C860.5 283.3 860.4 283.5 860.5 283.8C860.6 284.1 860.9 284.8 861.2 284.9C861.5 284.9 862 284.4 862.3 284.2C862.5 284 862.5 283.8 862.7 283.5C862.8 283.2 863 282.8 863.1 282.4C863.3 282 863.5 281.7 863.6 281.3C863.7 281 863.7 280.6 863.8 280.2C863.8 279.8 863.9 279.4 864 279.1C864 278.8 864.2 278.7 864.1 278.3C863.9 277.9 863.5 276.7 863 276.6Z"/>
</g>
<g transform="translate(0 0)">
<path d="M819 241.8C818.1 241.1 818.3 241.1 817.3 238.8C816.3 236.5 813.6 231.8 812.8 228.2C812 224.6 811.3 221.1 812.6 217.5C813.9 213.9 817 210.2 820.6 206.9C824.2 203.6 829.2 200 834.1 197.6C839 195.2 844.3 193.4 850.1 192.3C855.9 191.2 863 190.7 868.7 190.9C874.5 191.1 879.5 191.9 884.6 193.6C889.7 195.3 894.8 198 899.2 200.9C903.6 203.8 907.7 207.7 911.2 210.9C914.8 214.1 918.1 217.6 920.5 220.2C922.9 222.8 924.8 224.8 925.6 226.4C926.5 228 926.4 229.2 925.6 230C924.8 230.8 922.3 231.4 921 231C919.7 230.6 919.6 229.8 917.8 227.5C915.9 225.2 913.2 220.8 909.9 217.5C906.6 214.2 902.1 210.4 897.9 207.6C893.7 204.8 889.5 202.6 884.6 200.9C879.7 199.2 874 198 868.7 197.6C863.4 197.2 857.6 197.4 852.7 198.3C847.8 199.2 843.4 200.9 839.4 202.9C835.4 204.9 831.7 207.5 828.8 210.2C825.9 212.9 823.5 215.9 822.2 218.9C820.9 221.9 820.4 225.3 820.8 228.2C821.2 231.1 824 234.4 824.8 236.5C825.5 238.6 825.7 239.4 825.3 240.5C824.9 241.6 823.5 243 822.5 243.2C821.5 243.4 819.9 242.5 819 241.8Z"/>
<path d="M843.1 194.8C843.1 194.1 842.3 193 841.1 192.6C839.9 192.2 838.1 192.5 836 192.4C833.9 192.3 831.2 192.2 828.8 192C826.4 191.8 824 191.5 821.6 191.1C819.2 190.6 816.8 190 814.4 189.4C812 188.7 809.1 187.7 807 187.1C804.9 186.4 802.8 185.7 801.8 185.5C800.7 185.3 800.8 185.7 800.7 186C800.6 186.3 800.3 186.5 801.2 187.1C802.1 187.6 804.2 188.4 806.2 189.3C808.3 190.2 811 191.4 813.5 192.3C815.9 193.2 818.4 194.1 820.9 194.7C823.3 195.3 825.9 195.6 828.4 195.9C830.8 196.1 833.7 196.3 835.8 196.4C837.8 196.6 839.7 197.1 840.9 196.8C842.1 196.5 843.1 195.5 843.1 194.8Z"/>
<path d="M831.1 201.7C831.1 201 830.4 199.9 829.1 199.5C827.8 199.1 825.7 199.5 823.4 199.4C821.1 199.3 817.9 199.3 815.2 199.2C812.5 199 809.9 198.9 807.2 198.6C804.5 198.3 801.8 198 799.1 197.6C796.3 197.3 793.2 196.7 790.9 196.3C788.5 196 786.2 195.5 785.1 195.5C783.9 195.4 784.1 195.8 784.1 196.1C784 196.4 783.7 196.7 784.7 197.1C785.8 197.6 788.1 198.1 790.4 198.7C792.7 199.2 795.8 200 798.5 200.6C801.2 201.2 804 201.9 806.7 202.3C809.5 202.7 812.3 202.8 815 203C817.7 203.2 820.9 203.3 823.2 203.4C825.5 203.5 827.6 204 828.9 203.7C830.2 203.4 831.1 202.4 831.1 201.7Z"/>
<path d="M819.1 211.3C819.1 210.6 818.3 209.5 817 209.2C815.7 208.9 813.7 209.3 811.5 209.3C809.2 209.3 806.2 209.4 803.6 209.3C801 209.2 798.4 209.1 795.8 208.9C793.2 208.7 790.6 208.5 788 208.1C785.4 207.8 782.3 207.2 780.1 206.9C777.8 206.5 775.6 206.1 774.5 206.1C773.4 206 773.5 206.5 773.5 206.7C773.4 207 773.1 207.3 774.1 207.7C775.2 208.1 777.4 208.6 779.6 209.2C781.8 209.8 784.8 210.5 787.5 211.1C790.1 211.7 792.8 212.3 795.5 212.7C798.1 213 800.8 213.1 803.5 213.2C806.2 213.3 809.2 213.3 811.5 213.3C813.7 213.4 815.7 213.7 817 213.4C818.3 213.1 819.1 212 819.1 211.3Z"/>
<path d="M816 220.6C815.8 220 814.7 219.2 813.3 219.3C812 219.4 810.2 220.4 808.1 221.1C806 221.8 803.2 222.8 800.7 223.6C798.3 224.3 795.9 225 793.4 225.6C791 226.1 788.6 226.6 786.1 227C783.7 227.3 780.8 227.6 778.7 227.9C776.6 228.2 774.5 228.4 773.5 228.7C772.5 228.9 772.7 229.3 772.8 229.6C772.8 229.8 772.6 230.2 773.7 230.3C774.7 230.5 776.8 230.3 778.9 230.3C781.1 230.2 784 230.2 786.5 230C789 229.8 791.6 229.7 794.2 229.2C796.7 228.8 799.3 228 801.8 227.3C804.4 226.6 807.2 225.6 809.4 225C811.5 224.3 813.6 224 814.7 223.3C815.8 222.6 816.2 221.3 816 220.6Z"/>
<path d="M817.4 228.4C817.1 227.7 815.9 227.1 814.6 227.4C813.2 227.7 811.4 229.1 809.3 230.1C807.1 231.2 804.2 232.7 801.7 233.9C799.2 235 796.8 236.1 794.3 237C791.9 237.9 789.4 238.5 787 239.2C784.5 239.8 781.6 240.3 779.4 240.8C777.3 241.2 775.2 241.6 774.2 242C773.2 242.3 773.4 242.7 773.5 242.9C773.5 243.2 773.4 243.6 774.4 243.6C775.5 243.7 777.6 243.4 779.8 243.1C782 242.9 785 242.6 787.6 242.1C790.2 241.7 792.9 241.3 795.5 240.5C798.1 239.7 800.7 238.5 803.3 237.4C805.9 236.3 808.9 234.8 811 233.8C813.2 232.7 815.4 232.1 816.4 231.2C817.5 230.3 817.7 229 817.4 228.4Z"/>
<path d="M821 207C821 206.5 819.9 205.8 819.5 205.5C819.1 205.2 818.9 205.5 818.5 205.4C818 205.4 817.5 205.4 817 205.4C816.5 205.4 816 205.3 815.5 205.3C815 205.4 814.5 205.5 814 205.6C813.5 205.6 813 205.7 812.5 205.8C812.1 205.8 811.8 205.8 811.5 206C811.2 206.2 810.5 206.7 810.5 207C810.5 207.3 811.2 207.8 811.5 208C811.8 208.2 812.1 208.2 812.5 208.2C813 208.3 813.5 208.4 814 208.4C814.5 208.5 815 208.6 815.5 208.7C816 208.7 816.5 208.6 817 208.6C817.5 208.6 818 208.6 818.5 208.6C818.9 208.5 819.1 208.8 819.5 208.5C819.9 208.2 821 207.5 821 207Z"/>
<path d="M816 216.7C816 216.2 814.9 215.5 814.4 215.3C813.9 215.1 813.6 215.3 813 215.4C812.5 215.4 811.8 215.4 811.1 215.4C810.5 215.5 809.9 215.5 809.2 215.5C808.6 215.6 808 215.8 807.3 215.9C806.7 216 806 216.2 805.4 216.3C804.9 216.4 804.5 216.4 804.1 216.6C803.7 216.8 803.2 217.3 803.2 217.7C803.2 218 803.9 218.4 804.3 218.6C804.7 218.8 805.1 218.7 805.6 218.7C806.2 218.8 806.9 218.8 807.6 218.8C808.2 218.8 808.8 218.9 809.5 218.9C810.1 218.8 810.7 218.7 811.4 218.7C812 218.6 812.7 218.5 813.3 218.5C813.8 218.4 814.2 218.6 814.6 218.3C815.1 218 816 217.2 816 216.7Z"/>
</g>
</g>
</g>
<g id="p6">
<path class="apo" d="M741.5 724.2L752 724.2L752 696L757.4 697L746.7 676.8L736 697L741.5 696Z"/><path class="ap" d="M741.5 724.2L752 724.2L752 696L757.4 697L746.7 676.8L736 697L741.5 696Z"/>
<path class="apo" d="M1178.8 725.2L1189.8 725.2L1189.8 697L1195.2 698L1184.3 677.8L1173.4 698L1178.8 697Z"/><path class="ap" d="M1178.8 725.2L1189.8 725.2L1189.8 697L1195.2 698L1184.3 677.8L1173.4 698L1178.8 697Z"/>
<g>
<g transform="translate(1 516)">
<path d="M799.5 155.4C802.4 153.1 811.1 146.6 818.1 143.5C825.1 140.4 833.2 138.4 841.7 136.7C850.2 135 860 133.5 869.1 133.3C878.2 133.1 887.4 134.1 896.6 135.7C905.8 137.2 918.3 140.6 924.1 142.6C929.9 144.6 930.6 145.8 931.2 147.5C931.9 149.2 930.5 151.7 928 152.6C925.5 153.5 921.4 153.8 916.2 152.8C911 151.8 904.5 148.7 896.6 146.7C888.8 144.7 878.2 141.6 869.1 140.8C860 140.1 850.2 140.7 841.7 142.2C833.2 143.7 825 147.1 818.1 149.6C811.2 152.1 803.6 156.2 800.5 157.2C797.4 158.2 796.6 157.7 799.5 155.4Z"/>
</g>
<g transform="translate(0 498)">
<path d="M884.6 218.3C889.3 218.4 895.2 220.1 899 222.5C902.8 224.9 905.5 228.9 907.3 233C909.1 237.1 909.6 242.7 909.8 246.8C910 250.9 909.3 254.6 908.3 257.5C907.2 260.4 905.3 261.4 903.5 264C901.7 266.6 899.8 270.9 897.5 273C895.2 275.1 893.2 275.7 890 276.3C886.8 276.9 881.6 277.5 878 276.8C874.4 276.1 871.2 274.4 868.5 272C865.8 269.6 863.6 266.7 862 262.5C860.4 258.3 858.8 252 858.8 246.8C858.8 241.6 860 235.6 862 231.5C864 227.4 867.2 224.2 871 222C874.8 219.8 879.9 218.2 884.6 218.3Z" fill="#fff" stroke="#050505" stroke-width="3.3"/>
<clipPath id="c3"><path d="M884.6 218.3C889.3 218.4 895.2 220.1 899 222.5C902.8 224.9 905.5 228.9 907.3 233C909.1 237.1 909.6 242.7 909.8 246.8C910 250.9 909.3 254.6 908.3 257.5C907.2 260.4 905.3 261.4 903.5 264C901.7 266.6 899.8 270.9 897.5 273C895.2 275.1 893.2 275.7 890 276.3C886.8 276.9 881.6 277.5 878 276.8C874.4 276.1 871.2 274.4 868.5 272C865.8 269.6 863.6 266.7 862 262.5C860.4 258.3 858.8 252 858.8 246.8C858.8 241.6 860 235.6 862 231.5C864 227.4 867.2 224.2 871 222C874.8 219.8 879.9 218.2 884.6 218.3Z"/></clipPath>
<circle cx="888" cy="238" r="26.3" clip-path="url(#c3)"/>
<path d="M863.5 248.5L867.5 250" class="tk" stroke-width="1.8"/>
<path d="M864.8 255.5L869.3 254.6" class="tk" stroke-width="1.8"/>
<path d="M868.5 263.5L872.5 259.8" class="tk" stroke-width="1.8"/>
<path d="M874.5 270L877.5 265" class="tk" stroke-width="1.8"/>
<path d="M882.5 274L884 267" class="tk" stroke-width="1.8"/>
<path d="M890.5 273.5L890.5 267" class="tk" stroke-width="1.8"/>
<path d="M897.5 269.5L896 264.5" class="tk" stroke-width="1.8"/>
<ellipse cx="892.6" cy="242.1" rx="15.4" ry="16" fill="#fff" transform="rotate(-20 892.6 242.1)"/>
<path d="M833.2 262.6C833 262.9 833 263.7 833.3 264.3C833.6 264.9 834.3 265.4 835.1 266.2C835.8 266.9 836.8 268 837.8 268.8C838.9 269.7 840.1 270.7 841.3 271.4C842.6 272.1 844 272.7 845.4 273.3C846.9 273.9 848.5 274.4 850.1 275C851.7 275.5 853.3 275.9 855 276.4C856.7 276.8 858.6 277.1 860.4 277.5C862.2 277.8 864.3 278.1 866 278.3C867.8 278.6 869.5 278.8 871.1 279C872.7 279.2 874.2 279.3 875.5 279.3C876.9 279.4 878.3 279.4 879.3 279.5C880.4 279.5 881.2 279.7 881.9 279.5C882.6 279.3 883.5 278.6 883.5 278.1C883.5 277.6 882.7 276.8 882.1 276.5C881.4 276.2 880.5 276.4 879.5 276.3C878.4 276.3 877.1 276.2 875.8 276.1C874.4 276 873 275.8 871.5 275.6C869.9 275.4 868.3 275.2 866.5 275C864.8 274.7 862.8 274.4 861 274.1C859.2 273.8 857.5 273.4 855.8 273C854.1 272.7 852.6 272.2 851.1 271.8C849.5 271.3 848 270.8 846.6 270.3C845.3 269.7 844 269.2 842.9 268.6C841.7 268 840.7 267.3 839.7 266.5C838.7 265.8 837.7 264.9 836.9 264.2C836.1 263.5 835.5 262.8 834.9 262.5C834.3 262.3 833.5 262.3 833.2 262.6Z"/>
<path d="M835.8 265.7C835.5 265.4 834.2 265.6 833.8 265.7C833.4 265.8 833.4 266 833.2 266.3C832.9 266.5 832.6 266.8 832.2 267.1C831.9 267.4 831.6 267.6 831.3 267.9C831.1 268.2 830.9 268.6 830.6 269C830.4 269.3 830.1 269.7 829.9 270C829.7 270.3 829.5 270.4 829.5 270.8C829.4 271.1 829.3 271.8 829.5 272C829.7 272.2 830.4 272.1 830.7 272C831.1 272 831.2 271.8 831.5 271.6C831.8 271.4 832.2 271.1 832.5 270.9C832.9 270.6 833.3 270.4 833.6 270.2C833.9 269.9 834.1 269.6 834.4 269.3C834.7 268.9 835 268.6 835.2 268.3C835.5 268.1 835.7 268.1 835.8 267.7C835.9 267.3 836.1 266 835.8 265.7Z"/>
<path d="M845.6 272.3C845.2 272 844 272.4 843.6 272.5C843.2 272.7 843.2 273 843 273.3C842.7 273.6 842.4 274 842.1 274.3C841.8 274.7 841.4 275 841.2 275.4C840.9 275.8 840.7 276.2 840.5 276.6C840.3 277 840 277.5 839.8 277.8C839.6 278.2 839.4 278.4 839.4 278.7C839.3 279.1 839.3 279.8 839.5 280C839.8 280.2 840.5 280 840.8 279.9C841.1 279.7 841.3 279.5 841.6 279.2C841.9 279 842.3 278.6 842.6 278.3C843 278 843.3 277.7 843.6 277.3C843.9 277 844.2 276.6 844.4 276.2C844.7 275.8 845 275.4 845.3 275.1C845.5 274.7 845.8 274.7 845.8 274.3C845.9 273.8 845.9 272.6 845.6 272.3Z"/>
<path d="M856.1 275.5C855.7 275.3 854.6 275.8 854.2 276C853.8 276.2 854 276.3 853.8 276.6C853.6 276.8 853.4 277.1 853.2 277.4C853.1 277.7 852.8 277.9 852.7 278.2C852.5 278.5 852.5 278.8 852.4 279.2C852.3 279.5 852.2 279.9 852.1 280.1C852 280.4 851.9 280.5 851.9 280.8C852 281.2 852 281.9 852.2 282.1C852.5 282.2 853.2 281.9 853.5 281.8C853.8 281.6 853.8 281.5 854 281.3C854.2 281.1 854.5 280.8 854.7 280.5C854.9 280.3 855.2 280.1 855.4 279.8C855.6 279.5 855.7 279.2 855.9 278.9C856 278.6 856.2 278.3 856.3 278C856.4 277.8 856.6 277.8 856.6 277.4C856.6 277 856.5 275.7 856.1 275.5Z"/>
<path d="M863 276.6C862.5 276.5 861.6 277.4 861.3 277.7C861 278 861.2 278.2 861.1 278.5C861 278.8 860.9 279.2 860.8 279.6C860.7 279.9 860.6 280.3 860.5 280.7C860.5 281 860.5 281.4 860.5 281.8C860.5 282.2 860.5 282.7 860.5 283C860.5 283.3 860.4 283.5 860.5 283.8C860.6 284.1 860.9 284.8 861.2 284.9C861.5 284.9 862 284.4 862.3 284.2C862.5 284 862.5 283.8 862.7 283.5C862.8 283.2 863 282.8 863.1 282.4C863.3 282 863.5 281.7 863.6 281.3C863.7 281 863.7 280.6 863.8 280.2C863.8 279.8 863.9 279.4 864 279.1C864 278.8 864.2 278.7 864.1 278.3C863.9 277.9 863.5 276.7 863 276.6Z"/>
</g>
<g transform="translate(0.5 510.5)">
<path d="M819 241.8C818.1 241.1 818.3 241.1 817.3 238.8C816.3 236.5 813.6 231.8 812.8 228.2C812 224.6 811.3 221.1 812.6 217.5C813.9 213.9 817 210.2 820.6 206.9C824.2 203.6 829.2 200 834.1 197.6C839 195.2 844.3 193.4 850.1 192.3C855.9 191.2 863 190.7 868.7 190.9C874.5 191.1 879.5 191.9 884.6 193.6C889.7 195.3 894.8 198 899.2 200.9C903.6 203.8 907.7 207.7 911.2 210.9C914.8 214.1 918.1 217.6 920.5 220.2C922.9 222.8 924.8 224.8 925.6 226.4C926.5 228 926.4 229.2 925.6 230C924.8 230.8 922.3 231.4 921 231C919.7 230.6 919.6 229.8 917.8 227.5C915.9 225.2 913.2 220.8 909.9 217.5C906.6 214.2 902.1 210.4 897.9 207.6C893.7 204.8 889.5 202.6 884.6 200.9C879.7 199.2 874 198 868.7 197.6C863.4 197.2 857.6 197.4 852.7 198.3C847.8 199.2 843.4 200.9 839.4 202.9C835.4 204.9 831.7 207.5 828.8 210.2C825.9 212.9 823.5 215.9 822.2 218.9C820.9 221.9 820.4 225.3 820.8 228.2C821.2 231.1 824 234.4 824.8 236.5C825.5 238.6 825.7 239.4 825.3 240.5C824.9 241.6 823.5 243 822.5 243.2C821.5 243.4 819.9 242.5 819 241.8Z"/>
<path d="M872 197C873.8 195.2 880.3 198 884.6 199.5C888.9 201 893.7 203.2 897.9 206C902.1 208.8 907.5 213.2 909.9 216C912.3 218.8 913.1 221.3 912.5 222.5C911.9 223.7 908.2 224.6 906 223C903.8 221.4 902.6 215.5 899 213C895.4 210.5 888.8 208.4 884.6 208C880.4 207.6 876.1 212.3 874 210.5C871.9 208.7 870.2 198.8 872 197Z"/>
<path d="M843.1 194.8C843.1 194.1 842.3 193 841.1 192.6C839.9 192.2 838.1 192.5 836 192.4C833.9 192.3 831.2 192.2 828.8 192C826.4 191.8 824 191.5 821.6 191.1C819.2 190.6 816.8 190 814.4 189.4C812 188.7 809.1 187.7 807 187.1C804.9 186.4 802.8 185.7 801.8 185.5C800.7 185.3 800.8 185.7 800.7 186C800.6 186.3 800.3 186.5 801.2 187.1C802.1 187.6 804.2 188.4 806.2 189.3C808.3 190.2 811 191.4 813.5 192.3C815.9 193.2 818.4 194.1 820.9 194.7C823.3 195.3 825.9 195.6 828.4 195.9C830.8 196.1 833.7 196.3 835.8 196.4C837.8 196.6 839.7 197.1 840.9 196.8C842.1 196.5 843.1 195.5 843.1 194.8Z"/>
<path d="M831.1 201.7C831.1 201 830.4 199.9 829.1 199.5C827.8 199.1 825.7 199.5 823.4 199.4C821.1 199.3 817.9 199.3 815.2 199.2C812.5 199 809.9 198.9 807.2 198.6C804.5 198.3 801.8 198 799.1 197.6C796.3 197.3 793.2 196.7 790.9 196.3C788.5 196 786.2 195.5 785.1 195.5C783.9 195.4 784.1 195.8 784.1 196.1C784 196.4 783.7 196.7 784.7 197.1C785.8 197.6 788.1 198.1 790.4 198.7C792.7 199.2 795.8 200 798.5 200.6C801.2 201.2 804 201.9 806.7 202.3C809.5 202.7 812.3 202.8 815 203C817.7 203.2 820.9 203.3 823.2 203.4C825.5 203.5 827.6 204 828.9 203.7C830.2 203.4 831.1 202.4 831.1 201.7Z"/>
<path d="M819.1 211.3C819.1 210.6 818.3 209.5 817 209.2C815.7 208.9 813.7 209.3 811.5 209.3C809.2 209.3 806.2 209.4 803.6 209.3C801 209.2 798.4 209.1 795.8 208.9C793.2 208.7 790.6 208.5 788 208.1C785.4 207.8 782.3 207.2 780.1 206.9C777.8 206.5 775.6 206.1 774.5 206.1C773.4 206 773.5 206.5 773.5 206.7C773.4 207 773.1 207.3 774.1 207.7C775.2 208.1 777.4 208.6 779.6 209.2C781.8 209.8 784.8 210.5 787.5 211.1C790.1 211.7 792.8 212.3 795.5 212.7C798.1 213 800.8 213.1 803.5 213.2C806.2 213.3 809.2 213.3 811.5 213.3C813.7 213.4 815.7 213.7 817 213.4C818.3 213.1 819.1 212 819.1 211.3Z"/>
<path d="M816 220.6C815.8 220 814.7 219.2 813.3 219.3C812 219.4 810.2 220.4 808.1 221.1C806 221.8 803.2 222.8 800.7 223.6C798.3 224.3 795.9 225 793.4 225.6C791 226.1 788.6 226.6 786.1 227C783.7 227.3 780.8 227.6 778.7 227.9C776.6 228.2 774.5 228.4 773.5 228.7C772.5 228.9 772.7 229.3 772.8 229.6C772.8 229.8 772.6 230.2 773.7 230.3C774.7 230.5 776.8 230.3 778.9 230.3C781.1 230.2 784 230.2 786.5 230C789 229.8 791.6 229.7 794.2 229.2C796.7 228.8 799.3 228 801.8 227.3C804.4 226.6 807.2 225.6 809.4 225C811.5 224.3 813.6 224 814.7 223.3C815.8 222.6 816.2 221.3 816 220.6Z"/>
<path d="M817.4 228.4C817.1 227.7 815.9 227.1 814.6 227.4C813.2 227.7 811.4 229.1 809.3 230.1C807.1 231.2 804.2 232.7 801.7 233.9C799.2 235 796.8 236.1 794.3 237C791.9 237.9 789.4 238.5 787 239.2C784.5 239.8 781.6 240.3 779.4 240.8C777.3 241.2 775.2 241.6 774.2 242C773.2 242.3 773.4 242.7 773.5 242.9C773.5 243.2 773.4 243.6 774.4 243.6C775.5 243.7 777.6 243.4 779.8 243.1C782 242.9 785 242.6 787.6 242.1C790.2 241.7 792.9 241.3 795.5 240.5C798.1 239.7 800.7 238.5 803.3 237.4C805.9 236.3 808.9 234.8 811 233.8C813.2 232.7 815.4 232.1 816.4 231.2C817.5 230.3 817.7 229 817.4 228.4Z"/>
<path d="M821 207C821 206.5 819.9 205.8 819.5 205.5C819.1 205.2 818.9 205.5 818.5 205.4C818 205.4 817.5 205.4 817 205.4C816.5 205.4 816 205.3 815.5 205.3C815 205.4 814.5 205.5 814 205.6C813.5 205.6 813 205.7 812.5 205.8C812.1 205.8 811.8 205.8 811.5 206C811.2 206.2 810.5 206.7 810.5 207C810.5 207.3 811.2 207.8 811.5 208C811.8 208.2 812.1 208.2 812.5 208.2C813 208.3 813.5 208.4 814 208.4C814.5 208.5 815 208.6 815.5 208.7C816 208.7 816.5 208.6 817 208.6C817.5 208.6 818 208.6 818.5 208.6C818.9 208.5 819.1 208.8 819.5 208.5C819.9 208.2 821 207.5 821 207Z"/>
<path d="M816 216.7C816 216.2 814.9 215.5 814.4 215.3C813.9 215.1 813.6 215.3 813 215.4C812.5 215.4 811.8 215.4 811.1 215.4C810.5 215.5 809.9 215.5 809.2 215.5C808.6 215.6 808 215.8 807.3 215.9C806.7 216 806 216.2 805.4 216.3C804.9 216.4 804.5 216.4 804.1 216.6C803.7 216.8 803.2 217.3 803.2 217.7C803.2 218 803.9 218.4 804.3 218.6C804.7 218.8 805.1 218.7 805.6 218.7C806.2 218.8 806.9 218.8 807.6 218.8C808.2 218.8 808.8 218.9 809.5 218.9C810.1 218.8 810.7 218.7 811.4 218.7C812 218.6 812.7 218.5 813.3 218.5C813.8 218.4 814.2 218.6 814.6 218.3C815.1 218 816 217.2 816 216.7Z"/>
</g>
</g>
<g transform="translate(1935.4 0) scale(-1 1)">
<g transform="translate(-0.4 518.6)">
<path d="M799.5 155.4C802.4 153.1 811.1 146.6 818.1 143.5C825.1 140.4 833.2 138.4 841.7 136.7C850.2 135 860 133.5 869.1 133.3C878.2 133.1 887.4 134.1 896.6 135.7C905.8 137.2 918.3 140.6 924.1 142.6C929.9 144.6 930.6 145.8 931.2 147.5C931.9 149.2 930.5 151.7 928 152.6C925.5 153.5 921.4 153.8 916.2 152.8C911 151.8 904.5 148.7 896.6 146.7C888.8 144.7 878.2 141.6 869.1 140.8C860 140.1 850.2 140.7 841.7 142.2C833.2 143.7 825 147.1 818.1 149.6C811.2 152.1 803.6 156.2 800.5 157.2C797.4 158.2 796.6 157.7 799.5 155.4Z"/>
</g>
<g transform="translate(0.6 498)">
<path d="M884.6 218.3C889.3 218.4 895.2 220.1 899 222.5C902.8 224.9 905.5 228.9 907.3 233C909.1 237.1 909.6 242.7 909.8 246.8C910 250.9 909.3 254.6 908.3 257.5C907.2 260.4 905.3 261.4 903.5 264C901.7 266.6 899.8 270.9 897.5 273C895.2 275.1 893.2 275.7 890 276.3C886.8 276.9 881.6 277.5 878 276.8C874.4 276.1 871.2 274.4 868.5 272C865.8 269.6 863.6 266.7 862 262.5C860.4 258.3 858.8 252 858.8 246.8C858.8 241.6 860 235.6 862 231.5C864 227.4 867.2 224.2 871 222C874.8 219.8 879.9 218.2 884.6 218.3Z" fill="#fff" stroke="#050505" stroke-width="3.3"/>
<clipPath id="c4"><path d="M884.6 218.3C889.3 218.4 895.2 220.1 899 222.5C902.8 224.9 905.5 228.9 907.3 233C909.1 237.1 909.6 242.7 909.8 246.8C910 250.9 909.3 254.6 908.3 257.5C907.2 260.4 905.3 261.4 903.5 264C901.7 266.6 899.8 270.9 897.5 273C895.2 275.1 893.2 275.7 890 276.3C886.8 276.9 881.6 277.5 878 276.8C874.4 276.1 871.2 274.4 868.5 272C865.8 269.6 863.6 266.7 862 262.5C860.4 258.3 858.8 252 858.8 246.8C858.8 241.6 860 235.6 862 231.5C864 227.4 867.2 224.2 871 222C874.8 219.8 879.9 218.2 884.6 218.3Z"/></clipPath>
<circle cx="888" cy="238" r="26.3" clip-path="url(#c4)"/>
<path d="M863.5 248.5L867.5 250" class="tk" stroke-width="1.8"/>
<path d="M864.8 255.5L869.3 254.6" class="tk" stroke-width="1.8"/>
<path d="M868.5 263.5L872.5 259.8" class="tk" stroke-width="1.8"/>
<path d="M874.5 270L877.5 265" class="tk" stroke-width="1.8"/>
<path d="M882.5 274L884 267" class="tk" stroke-width="1.8"/>
<path d="M890.5 273.5L890.5 267" class="tk" stroke-width="1.8"/>
<path d="M897.5 269.5L896 264.5" class="tk" stroke-width="1.8"/>
<ellipse cx="892.6" cy="242.1" rx="15.4" ry="16" fill="#fff" transform="rotate(-20 892.6 242.1)"/>
<path d="M833.2 262.6C833 262.9 833 263.7 833.3 264.3C833.6 264.9 834.3 265.4 835.1 266.2C835.8 266.9 836.8 268 837.8 268.8C838.9 269.7 840.1 270.7 841.3 271.4C842.6 272.1 844 272.7 845.4 273.3C846.9 273.9 848.5 274.4 850.1 275C851.7 275.5 853.3 275.9 855 276.4C856.7 276.8 858.6 277.1 860.4 277.5C862.2 277.8 864.3 278.1 866 278.3C867.8 278.6 869.5 278.8 871.1 279C872.7 279.2 874.2 279.3 875.5 279.3C876.9 279.4 878.3 279.4 879.3 279.5C880.4 279.5 881.2 279.7 881.9 279.5C882.6 279.3 883.5 278.6 883.5 278.1C883.5 277.6 882.7 276.8 882.1 276.5C881.4 276.2 880.5 276.4 879.5 276.3C878.4 276.3 877.1 276.2 875.8 276.1C874.4 276 873 275.8 871.5 275.6C869.9 275.4 868.3 275.2 866.5 275C864.8 274.7 862.8 274.4 861 274.1C859.2 273.8 857.5 273.4 855.8 273C854.1 272.7 852.6 272.2 851.1 271.8C849.5 271.3 848 270.8 846.6 270.3C845.3 269.7 844 269.2 842.9 268.6C841.7 268 840.7 267.3 839.7 266.5C838.7 265.8 837.7 264.9 836.9 264.2C836.1 263.5 835.5 262.8 834.9 262.5C834.3 262.3 833.5 262.3 833.2 262.6Z"/>
<path d="M835.8 265.7C835.5 265.4 834.2 265.6 833.8 265.7C833.4 265.8 833.4 266 833.2 266.3C832.9 266.5 832.6 266.8 832.2 267.1C831.9 267.4 831.6 267.6 831.3 267.9C831.1 268.2 830.9 268.6 830.6 269C830.4 269.3 830.1 269.7 829.9 270C829.7 270.3 829.5 270.4 829.5 270.8C829.4 271.1 829.3 271.8 829.5 272C829.7 272.2 830.4 272.1 830.7 272C831.1 272 831.2 271.8 831.5 271.6C831.8 271.4 832.2 271.1 832.5 270.9C832.9 270.6 833.3 270.4 833.6 270.2C833.9 269.9 834.1 269.6 834.4 269.3C834.7 268.9 835 268.6 835.2 268.3C835.5 268.1 835.7 268.1 835.8 267.7C835.9 267.3 836.1 266 835.8 265.7Z"/>
<path d="M845.6 272.3C845.2 272 844 272.4 843.6 272.5C843.2 272.7 843.2 273 843 273.3C842.7 273.6 842.4 274 842.1 274.3C841.8 274.7 841.4 275 841.2 275.4C840.9 275.8 840.7 276.2 840.5 276.6C840.3 277 840 277.5 839.8 277.8C839.6 278.2 839.4 278.4 839.4 278.7C839.3 279.1 839.3 279.8 839.5 280C839.8 280.2 840.5 280 840.8 279.9C841.1 279.7 841.3 279.5 841.6 279.2C841.9 279 842.3 278.6 842.6 278.3C843 278 843.3 277.7 843.6 277.3C843.9 277 844.2 276.6 844.4 276.2C844.7 275.8 845 275.4 845.3 275.1C845.5 274.7 845.8 274.7 845.8 274.3C845.9 273.8 845.9 272.6 845.6 272.3Z"/>
<path d="M856.1 275.5C855.7 275.3 854.6 275.8 854.2 276C853.8 276.2 854 276.3 853.8 276.6C853.6 276.8 853.4 277.1 853.2 277.4C853.1 277.7 852.8 277.9 852.7 278.2C852.5 278.5 852.5 278.8 852.4 279.2C852.3 279.5 852.2 279.9 852.1 280.1C852 280.4 851.9 280.5 851.9 280.8C852 281.2 852 281.9 852.2 282.1C852.5 282.2 853.2 281.9 853.5 281.8C853.8 281.6 853.8 281.5 854 281.3C854.2 281.1 854.5 280.8 854.7 280.5C854.9 280.3 855.2 280.1 855.4 279.8C855.6 279.5 855.7 279.2 855.9 278.9C856 278.6 856.2 278.3 856.3 278C856.4 277.8 856.6 277.8 856.6 277.4C856.6 277 856.5 275.7 856.1 275.5Z"/>
<path d="M863 276.6C862.5 276.5 861.6 277.4 861.3 277.7C861 278 861.2 278.2 861.1 278.5C861 278.8 860.9 279.2 860.8 279.6C860.7 279.9 860.6 280.3 860.5 280.7C860.5 281 860.5 281.4 860.5 281.8C860.5 282.2 860.5 282.7 860.5 283C860.5 283.3 860.4 283.5 860.5 283.8C860.6 284.1 860.9 284.8 861.2 284.9C861.5 284.9 862 284.4 862.3 284.2C862.5 284 862.5 283.8 862.7 283.5C862.8 283.2 863 282.8 863.1 282.4C863.3 282 863.5 281.7 863.6 281.3C863.7 281 863.7 280.6 863.8 280.2C863.8 279.8 863.9 279.4 864 279.1C864 278.8 864.2 278.7 864.1 278.3C863.9 277.9 863.5 276.7 863 276.6Z"/>
</g>
<g transform="translate(0.5 510.5)">
<path d="M819 241.8C818.1 241.1 818.3 241.1 817.3 238.8C816.3 236.5 813.6 231.8 812.8 228.2C812 224.6 811.3 221.1 812.6 217.5C813.9 213.9 817 210.2 820.6 206.9C824.2 203.6 829.2 200 834.1 197.6C839 195.2 844.3 193.4 850.1 192.3C855.9 191.2 863 190.7 868.7 190.9C874.5 191.1 879.5 191.9 884.6 193.6C889.7 195.3 894.8 198 899.2 200.9C903.6 203.8 907.7 207.7 911.2 210.9C914.8 214.1 918.1 217.6 920.5 220.2C922.9 222.8 924.8 224.8 925.6 226.4C926.5 228 926.4 229.2 925.6 230C924.8 230.8 922.3 231.4 921 231C919.7 230.6 919.6 229.8 917.8 227.5C915.9 225.2 913.2 220.8 909.9 217.5C906.6 214.2 902.1 210.4 897.9 207.6C893.7 204.8 889.5 202.6 884.6 200.9C879.7 199.2 874 198 868.7 197.6C863.4 197.2 857.6 197.4 852.7 198.3C847.8 199.2 843.4 200.9 839.4 202.9C835.4 204.9 831.7 207.5 828.8 210.2C825.9 212.9 823.5 215.9 822.2 218.9C820.9 221.9 820.4 225.3 820.8 228.2C821.2 231.1 824 234.4 824.8 236.5C825.5 238.6 825.7 239.4 825.3 240.5C824.9 241.6 823.5 243 822.5 243.2C821.5 243.4 819.9 242.5 819 241.8Z"/>
<path d="M872 197C873.8 195.2 880.3 198 884.6 199.5C888.9 201 893.7 203.2 897.9 206C902.1 208.8 907.5 213.2 909.9 216C912.3 218.8 913.1 221.3 912.5 222.5C911.9 223.7 908.2 224.6 906 223C903.8 221.4 902.6 215.5 899 213C895.4 210.5 888.8 208.4 884.6 208C880.4 207.6 876.1 212.3 874 210.5C871.9 208.7 870.2 198.8 872 197Z"/>
<path d="M843.1 194.8C843.1 194.1 842.3 193 841.1 192.6C839.9 192.2 838.1 192.5 836 192.4C833.9 192.3 831.2 192.2 828.8 192C826.4 191.8 824 191.5 821.6 191.1C819.2 190.6 816.8 190 814.4 189.4C812 188.7 809.1 187.7 807 187.1C804.9 186.4 802.8 185.7 801.8 185.5C800.7 185.3 800.8 185.7 800.7 186C800.6 186.3 800.3 186.5 801.2 187.1C802.1 187.6 804.2 188.4 806.2 189.3C808.3 190.2 811 191.4 813.5 192.3C815.9 193.2 818.4 194.1 820.9 194.7C823.3 195.3 825.9 195.6 828.4 195.9C830.8 196.1 833.7 196.3 835.8 196.4C837.8 196.6 839.7 197.1 840.9 196.8C842.1 196.5 843.1 195.5 843.1 194.8Z"/>
<path d="M831.1 201.7C831.1 201 830.4 199.9 829.1 199.5C827.8 199.1 825.7 199.5 823.4 199.4C821.1 199.3 817.9 199.3 815.2 199.2C812.5 199 809.9 198.9 807.2 198.6C804.5 198.3 801.8 198 799.1 197.6C796.3 197.3 793.2 196.7 790.9 196.3C788.5 196 786.2 195.5 785.1 195.5C783.9 195.4 784.1 195.8 784.1 196.1C784 196.4 783.7 196.7 784.7 197.1C785.8 197.6 788.1 198.1 790.4 198.7C792.7 199.2 795.8 200 798.5 200.6C801.2 201.2 804 201.9 806.7 202.3C809.5 202.7 812.3 202.8 815 203C817.7 203.2 820.9 203.3 823.2 203.4C825.5 203.5 827.6 204 828.9 203.7C830.2 203.4 831.1 202.4 831.1 201.7Z"/>
<path d="M819.1 211.3C819.1 210.6 818.3 209.5 817 209.2C815.7 208.9 813.7 209.3 811.5 209.3C809.2 209.3 806.2 209.4 803.6 209.3C801 209.2 798.4 209.1 795.8 208.9C793.2 208.7 790.6 208.5 788 208.1C785.4 207.8 782.3 207.2 780.1 206.9C777.8 206.5 775.6 206.1 774.5 206.1C773.4 206 773.5 206.5 773.5 206.7C773.4 207 773.1 207.3 774.1 207.7C775.2 208.1 777.4 208.6 779.6 209.2C781.8 209.8 784.8 210.5 787.5 211.1C790.1 211.7 792.8 212.3 795.5 212.7C798.1 213 800.8 213.1 803.5 213.2C806.2 213.3 809.2 213.3 811.5 213.3C813.7 213.4 815.7 213.7 817 213.4C818.3 213.1 819.1 212 819.1 211.3Z"/>
<path d="M816 220.6C815.8 220 814.7 219.2 813.3 219.3C812 219.4 810.2 220.4 808.1 221.1C806 221.8 803.2 222.8 800.7 223.6C798.3 224.3 795.9 225 793.4 225.6C791 226.1 788.6 226.6 786.1 227C783.7 227.3 780.8 227.6 778.7 227.9C776.6 228.2 774.5 228.4 773.5 228.7C772.5 228.9 772.7 229.3 772.8 229.6C772.8 229.8 772.6 230.2 773.7 230.3C774.7 230.5 776.8 230.3 778.9 230.3C781.1 230.2 784 230.2 786.5 230C789 229.8 791.6 229.7 794.2 229.2C796.7 228.8 799.3 228 801.8 227.3C804.4 226.6 807.2 225.6 809.4 225C811.5 224.3 813.6 224 814.7 223.3C815.8 222.6 816.2 221.3 816 220.6Z"/>
<path d="M817.4 228.4C817.1 227.7 815.9 227.1 814.6 227.4C813.2 227.7 811.4 229.1 809.3 230.1C807.1 231.2 804.2 232.7 801.7 233.9C799.2 235 796.8 236.1 794.3 237C791.9 237.9 789.4 238.5 787 239.2C784.5 239.8 781.6 240.3 779.4 240.8C777.3 241.2 775.2 241.6 774.2 242C773.2 242.3 773.4 242.7 773.5 242.9C773.5 243.2 773.4 243.6 774.4 243.6C775.5 243.7 777.6 243.4 779.8 243.1C782 242.9 785 242.6 787.6 242.1C790.2 241.7 792.9 241.3 795.5 240.5C798.1 239.7 800.7 238.5 803.3 237.4C805.9 236.3 808.9 234.8 811 233.8C813.2 232.7 815.4 232.1 816.4 231.2C817.5 230.3 817.7 229 817.4 228.4Z"/>
<path d="M821 207C821 206.5 819.9 205.8 819.5 205.5C819.1 205.2 818.9 205.5 818.5 205.4C818 205.4 817.5 205.4 817 205.4C816.5 205.4 816 205.3 815.5 205.3C815 205.4 814.5 205.5 814 205.6C813.5 205.6 813 205.7 812.5 205.8C812.1 205.8 811.8 205.8 811.5 206C811.2 206.2 810.5 206.7 810.5 207C810.5 207.3 811.2 207.8 811.5 208C811.8 208.2 812.1 208.2 812.5 208.2C813 208.3 813.5 208.4 814 208.4C814.5 208.5 815 208.6 815.5 208.7C816 208.7 816.5 208.6 817 208.6C817.5 208.6 818 208.6 818.5 208.6C818.9 208.5 819.1 208.8 819.5 208.5C819.9 208.2 821 207.5 821 207Z"/>
<path d="M816 216.7C816 216.2 814.9 215.5 814.4 215.3C813.9 215.1 813.6 215.3 813 215.4C812.5 215.4 811.8 215.4 811.1 215.4C810.5 215.5 809.9 215.5 809.2 215.5C808.6 215.6 808 215.8 807.3 215.9C806.7 216 806 216.2 805.4 216.3C804.9 216.4 804.5 216.4 804.1 216.6C803.7 216.8 803.2 217.3 803.2 217.7C803.2 218 803.9 218.4 804.3 218.6C804.7 218.8 805.1 218.7 805.6 218.7C806.2 218.8 806.9 218.8 807.6 218.8C808.2 218.8 808.8 218.9 809.5 218.9C810.1 218.8 810.7 218.7 811.4 218.7C812 218.6 812.7 218.5 813.3 218.5C813.8 218.4 814.2 218.6 814.6 218.3C815.1 218 816 217.2 816 216.7Z"/>
</g>
</g>
</g>
<g id="p3">
<path class="abo" d="M67.7 430.6L78.3 430.6L78.3 404.3L83.7 405.3L73 384.4L62.3 405.3L67.7 404.3Z"/><path class="ab" d="M67.7 430.6L78.3 430.6L78.3 404.3L83.7 405.3L73 384.4L62.3 405.3L67.7 404.3Z"/>
<path class="abo" d="M72.5 456.1L72.5 464.6L46.6 464.6L47.6 470.7L25 460.3L47.6 449.9L46.6 456.1Z"/><path class="ab" d="M72.5 456.1L72.5 464.6L46.6 464.6L47.6 470.7L25 460.3L47.6 449.9L46.6 456.1Z"/>
<path class="abo" d="M66.7 486.2L77.3 486.2L77.3 513.2L83 512.2L72 533L61 512.2L66.7 513.2Z"/><path class="ab" d="M66.7 486.2L77.3 486.2L77.3 513.2L83 512.2L72 533L61 512.2L66.7 513.2Z"/>
<path class="abo" d="M501.4 431.7L513.1 431.7L513.1 404.3L518.2 405.3L507.3 384.4L496.4 405.3L501.4 404.3Z"/><path class="ab" d="M501.4 431.7L513.1 431.7L513.1 404.3L518.2 405.3L507.3 384.4L496.4 405.3L501.4 404.3Z"/>
<path class="abo" d="M506.9 455.8L506.9 465.4L535.4 465.4L534.4 471L556.3 460.6L534.4 450.2L535.4 455.8Z"/><path class="ab" d="M506.9 455.8L506.9 465.4L535.4 465.4L534.4 471L556.3 460.6L534.4 450.2L535.4 455.8Z"/>
<path class="abo" d="M503.6 485.7L514.4 485.7L514.4 513.2L520 512.2L509 533L498.1 512.2L503.6 513.2Z"/><path class="ab" d="M503.6 485.7L514.4 485.7L514.4 513.2L520 512.2L509 533L498.1 512.2L503.6 513.2Z"/>
<path d="M120.1 391.6C123.6 389.2 133.6 382 141.6 378.6C149.6 375.2 158.8 372.6 167.9 371C177 369.4 186.9 368.8 196.4 369.2C205.9 369.6 216.6 371.4 225 373.2C233.4 374.9 242.5 377.9 246.9 379.7C251.3 381.5 251.3 382.6 251.5 384.1C251.7 385.6 251.7 388.1 248 388.7C244.3 389.3 237.9 389.2 229.3 387.6C220.7 386 206.6 380.5 196.4 378.8C186.2 377.1 177 376.4 167.9 377.3C158.8 378.2 149.4 381.7 141.6 384.3C133.8 386.9 124.4 391.9 120.8 393.1C117.2 394.3 116.6 394 120.1 391.6Z"/>
<path d="M328.5 381.9C333.6 380.2 344.9 377.1 354.8 375.4C364.7 373.6 377.8 371.6 387.7 371.4C397.6 371.2 405.3 372.2 414.1 374.3C422.9 376.4 433.3 380.8 440.4 384.1C447.5 387.4 454.6 392.2 456.8 394C459 395.8 457 395.9 453.5 394.6C450 393.4 442.6 388.8 436 386.5C429.4 384.2 422.2 382.3 414.1 381C406.1 379.7 396.5 378.2 387.7 378.8C378.9 379.4 369.4 382.3 361.4 384.3C353.4 386.3 345.4 389.9 339.5 390.9C333.6 391.9 328.8 391.4 326.3 390.5C323.8 389.6 323.9 387.2 324.3 385.8C324.7 384.4 323.4 383.6 328.5 381.9Z"/>
<path d="M149.8 456.9C149.5 461.1 150.1 464.6 151.1 468.3C152.1 472 153.9 476.2 156 479.2C158.1 482.2 160.7 484.6 163.4 486.4C166.2 488.2 169.4 489.6 172.5 489.8C175.6 490 179 489.1 182 487.5C185 485.9 188.2 483.2 190.4 480.2C192.6 477.2 194.3 473.3 195.3 469.4C196.3 465.5 196.4 461.1 196.5 456.9C196.6 452.7 196.4 447.6 196 444.2C195.6 440.8 196.8 438.7 194 436.6C191.2 434.5 184.4 432.1 178.9 431.5C173.4 430.9 165.4 430.9 161.1 432.8C156.8 434.7 154.9 438.9 153 442.9C151.1 446.9 150.1 452.7 149.8 456.9Z" fill="#fff" stroke="#050505" stroke-width="3.3"/>
<clipPath id="c5"><path d="M149.8 456.9C149.5 461.1 150.1 464.6 151.1 468.3C152.1 472 153.9 476.2 156 479.2C158.1 482.2 160.7 484.6 163.4 486.4C166.2 488.2 169.4 489.6 172.5 489.8C175.6 490 179 489.1 182 487.5C185 485.9 188.2 483.2 190.4 480.2C192.6 477.2 194.3 473.3 195.3 469.4C196.3 465.5 196.4 461.1 196.5 456.9C196.6 452.7 196.4 447.6 196 444.2C195.6 440.8 196.8 438.7 194 436.6C191.2 434.5 184.4 432.1 178.9 431.5C173.4 430.9 165.4 430.9 161.1 432.8C156.8 434.7 154.9 438.9 153 442.9C151.1 446.9 150.1 452.7 149.8 456.9Z"/></clipPath>
<path d="M130 420C120.5 425 145.4 443.5 149 450C152.6 456.5 150.6 456.3 151.5 459C152.4 461.7 153.3 463.8 154.5 466C155.7 468.2 156.7 470.4 158.8 472.5C160.9 474.6 163.5 477.3 167 478.3C170.5 479.3 176.1 479.3 180 478.6C183.9 477.9 187.5 476.1 190.5 474.3C193.5 472.5 195.4 470.7 198 468C200.6 465.3 204.7 466 206 458C207.3 450 218.7 426.3 206 420C193.3 413.7 139.5 415 130 420Z" clip-path="url(#c5)"/>
<path d="M153.5 464L157.5 466.5" class="tk" stroke-width="1.8"/>
<path d="M155 472L159.5 470.8" class="tk" stroke-width="1.8"/>
<path d="M158.5 478.5L163 475.5" class="tk" stroke-width="1.8"/>
<path d="M164 483.5L167.5 479.8" class="tk" stroke-width="1.8"/>
<path d="M171 486.5L172.5 481.5" class="tk" stroke-width="1.8"/>
<path d="M178.5 486L178 481" class="tk" stroke-width="1.8"/>
<path d="M185 482.5L183.5 478.5" class="tk" stroke-width="1.8"/>
<ellipse cx="183.3" cy="459.4" rx="9.2" ry="16.6" fill="#fff" transform="rotate(-27 183.3 459.4)"/>
<path d="M142.1 478.6C141 478.2 139.8 478 138.5 476.5C137.2 475 135.4 472.7 134.4 469.6C133.4 466.6 131.8 462.2 132.5 458.2C133.2 454.2 135.4 449.3 138.3 445.5C141.2 441.7 145.5 438.1 149.7 435.3C153.9 432.6 158.4 430.4 163.7 429C169 427.6 175.7 427.1 181.4 427.1C187.1 427.1 192.4 427.4 197.9 429C203.4 430.6 209.1 433.4 214.4 436.6C219.7 439.8 225.3 444.4 229.7 448C234.1 451.6 238.4 455.9 241 458.3C243.6 460.7 244.6 461.3 245.2 462.6C245.8 463.9 245.5 465.4 244.8 466C244.1 466.6 242 466.6 241 466.2C240 465.8 240.9 466.3 238.6 463.9C236.3 461.5 231.5 455.5 227.1 451.8C222.7 448.1 216.8 444.2 211.9 441.7C207 439.2 202.4 436.9 197.9 436.6C193.4 436.3 190 439.4 185 440C180 440.6 173 439.3 168 440C163 440.7 158.4 442.4 155 444C151.6 445.6 150 446.9 147.8 449.3C145.7 451.7 143.3 455.4 142.1 458.2C140.9 460.9 140.4 463.5 140.8 465.8C141.2 468.1 143.7 470.4 144.6 472.1C145.5 473.8 146.2 474.9 146.3 476C146.4 477.1 145.7 478.2 145 478.6C144.3 479 143.2 479 142.1 478.6Z"/>
<path d="M159.1 430.6C159.2 429.9 158.2 428.7 157.2 428.3C156.1 427.9 154.5 428.1 152.7 428C150.9 427.9 148.4 427.7 146.3 427.5C144.2 427.3 142.2 427 140.1 426.6C138 426.2 135.9 425.8 133.7 425.2C131.6 424.7 129.1 423.9 127.3 423.3C125.4 422.8 123.6 422.2 122.7 422.1C121.7 422 121.7 422.4 121.6 422.6C121.5 422.9 121.3 423.2 122.1 423.7C122.9 424.2 124.7 424.9 126.5 425.6C128.3 426.3 130.7 427.3 132.8 428.1C135 428.9 137.1 429.7 139.3 430.3C141.5 430.8 143.7 431.1 145.9 431.4C148 431.7 150.5 431.9 152.3 432C154.2 432.2 155.7 432.7 156.8 432.5C158 432.2 159 431.3 159.1 430.6Z"/>
<path d="M149.1 437.5C149.1 436.8 148.3 435.7 147.1 435.3C145.9 434.9 143.9 435.2 141.8 435.1C139.6 435 136.7 435 134.2 434.8C131.7 434.7 129.2 434.5 126.7 434.2C124.2 433.9 121.7 433.6 119.1 433.3C116.6 432.9 113.6 432.4 111.5 432.1C109.3 431.7 107.1 431.3 106.1 431.3C105 431.2 105.1 431.6 105.1 431.9C105 432.2 104.7 432.5 105.7 432.9C106.7 433.3 108.8 433.8 111 434.4C113.1 434.9 116 435.7 118.6 436.3C121.1 436.9 123.7 437.5 126.2 437.9C128.8 438.3 131.4 438.5 133.9 438.7C136.5 438.9 139.4 439 141.6 439.2C143.7 439.3 145.6 439.8 146.9 439.5C148.2 439.2 149.1 438.2 149.1 437.5Z"/>
<path d="M139.1 448.2C139.1 447.5 138.3 446.4 137 446.1C135.8 445.8 133.8 446.1 131.6 446.1C129.4 446.1 126.4 446.2 123.9 446.1C121.3 446 118.8 445.9 116.3 445.7C113.7 445.4 111.2 445.1 108.6 444.7C106 444.3 103 443.7 100.8 443.3C98.6 442.9 96.4 442.4 95.3 442.4C94.2 442.3 94.3 442.7 94.3 443C94.2 443.3 93.9 443.6 94.9 444C95.9 444.5 98.1 445 100.3 445.6C102.5 446.2 105.4 447 108 447.7C110.6 448.3 113.2 449 115.8 449.3C118.5 449.7 121.1 449.8 123.7 450C126.3 450.1 129.3 450.1 131.5 450.2C133.8 450.2 135.7 450.6 137 450.3C138.2 450 139.1 448.9 139.1 448.2Z"/>
<path d="M136.5 458C136.3 457.4 135.2 456.6 133.9 456.6C132.6 456.6 130.8 457.5 128.8 458.1C126.7 458.7 123.8 459.6 121.4 460.2C119 460.9 116.5 461.5 114.1 462C111.7 462.5 109.3 462.9 106.9 463.3C104.4 463.6 101.6 463.9 99.5 464.2C97.4 464.5 95.3 464.7 94.3 465C93.3 465.2 93.5 465.6 93.6 465.9C93.6 466.1 93.4 466.5 94.5 466.6C95.5 466.8 97.6 466.6 99.7 466.6C101.8 466.5 104.7 466.5 107.2 466.3C109.7 466.1 112.3 466 114.8 465.6C117.3 465.2 119.8 464.6 122.3 464C124.9 463.4 127.7 462.6 129.8 462C132 461.5 134 461.3 135.1 460.6C136.2 460 136.7 458.7 136.5 458Z"/>
<path d="M137.4 464.5C137.1 463.9 135.9 463.2 134.6 463.5C133.3 463.8 131.5 465.1 129.4 466.1C127.3 467.1 124.5 468.6 122 469.7C119.6 470.8 117.1 471.8 114.7 472.7C112.3 473.5 109.9 474.2 107.5 474.8C105.1 475.5 102.2 476 100.1 476.5C98 476.9 95.9 477.3 95 477.7C94 478 94.2 478.4 94.3 478.6C94.3 478.9 94.2 479.3 95.2 479.3C96.3 479.4 98.4 479.1 100.5 478.8C102.7 478.6 105.6 478.2 108.1 477.8C110.7 477.4 113.3 477 115.9 476.2C118.4 475.5 121 474.3 123.6 473.2C126.1 472.2 129 470.7 131.1 469.8C133.3 468.8 135.4 468.2 136.4 467.3C137.5 466.4 137.7 465.1 137.4 464.5Z"/>
<path d="M136 451.4C135.9 450.9 134.8 450.3 134.3 450.1C133.8 449.9 133.5 450.2 133 450.3C132.4 450.3 131.7 450.4 131.1 450.5C130.4 450.5 129.8 450.6 129.2 450.7C128.5 450.8 127.9 451 127.3 451.2C126.7 451.4 126 451.5 125.4 451.7C124.9 451.8 124.5 451.9 124.2 452.1C123.8 452.4 123.3 452.9 123.3 453.2C123.4 453.6 124 453.9 124.4 454.1C124.9 454.2 125.3 454.1 125.8 454.1C126.3 454.1 127.1 454.1 127.7 454.1C128.4 454 129 454.1 129.6 454C130.3 453.9 130.9 453.8 131.5 453.7C132.2 453.6 132.9 453.4 133.4 453.3C133.9 453.2 134.3 453.4 134.7 453.1C135.1 452.8 136.1 451.9 136 451.4Z"/>
<path d="M138.3 470.2C138 469.8 136.7 469.7 136.2 469.7C135.7 469.7 135.7 470 135.3 470.2C135 470.4 134.5 470.7 134.1 470.9C133.7 471.1 133.3 471.3 132.9 471.6C132.5 471.8 132.1 472.2 131.8 472.5C131.4 472.8 131 473.2 130.7 473.4C130.4 473.7 130.2 473.8 130 474.1C129.8 474.5 129.5 475.2 129.6 475.5C129.8 475.8 130.6 475.9 131 475.9C131.4 475.9 131.6 475.7 132 475.5C132.4 475.4 132.9 475.2 133.3 475C133.7 474.8 134.2 474.6 134.6 474.4C135 474.2 135.4 473.9 135.8 473.6C136.2 473.4 136.6 473.1 137 472.8C137.3 472.6 137.6 472.7 137.8 472.3C138 471.8 138.5 470.6 138.3 470.2Z"/>
<path d="M154.5 498.6C154.3 498.8 154.3 499.6 154.6 500.3C154.9 500.9 155.6 501.4 156.4 502.2C157.1 503.1 158.1 504.2 159.2 505.1C160.3 506 161.5 507 162.9 507.8C164.3 508.6 165.9 509.2 167.5 509.9C169.2 510.6 171 511.2 172.8 511.8C174.7 512.3 176.6 512.8 178.6 513.2C180.6 513.5 182.6 513.8 184.7 513.9C186.8 514.1 189 514.2 191.2 514.3C193.4 514.3 195.5 514.4 197.9 514.4C200.3 514.4 203 514.4 205.5 514.4C208.1 514.3 211.2 514.2 213.4 514.2C215.6 514.1 217.8 514.3 218.9 514C220.1 513.7 220.4 513 220.4 512.5C220.4 512 220 511.2 218.9 511C217.7 510.8 215.6 511.1 213.3 511.1C211.1 511.1 208.1 511.2 205.5 511.2C202.9 511.3 200.3 511.2 197.9 511.2C195.6 511.2 193.5 511.1 191.3 511C189.2 510.9 187.1 510.8 185 510.6C183 510.4 181.1 510.2 179.2 509.8C177.3 509.5 175.5 509 173.8 508.6C172 508.1 170.3 507.5 168.7 506.9C167.2 506.3 165.8 505.7 164.5 505C163.2 504.3 162.1 503.6 161 502.8C160 502 159 501 158.2 500.3C157.4 499.6 156.9 498.8 156.2 498.5C155.6 498.3 154.8 498.3 154.5 498.6Z"/>
<path d="M157 501.6C156.7 501.3 155.4 501.5 155 501.6C154.6 501.7 154.6 501.9 154.4 502.1C154.2 502.4 153.8 502.7 153.5 502.9C153.3 503.2 152.9 503.4 152.7 503.7C152.4 504 152.2 504.3 152 504.7C151.8 505 151.6 505.4 151.4 505.6C151.2 505.9 151 506 151 506.4C150.9 506.7 150.8 507.4 151 507.6C151.2 507.8 151.9 507.7 152.2 507.6C152.6 507.6 152.7 507.4 153 507.2C153.2 507 153.6 506.8 153.9 506.6C154.3 506.4 154.6 506.2 154.9 505.9C155.2 505.7 155.4 505.3 155.7 505.1C155.9 504.8 156.2 504.4 156.5 504.2C156.7 504 156.9 504 157 503.6C157.1 503.2 157.3 501.9 157 501.6Z"/>
<path d="M165.8 507.3C165.4 507.1 164.2 507.5 163.8 507.7C163.4 507.9 163.5 508.1 163.3 508.4C163.1 508.7 162.8 509.1 162.5 509.5C162.3 509.8 162 510.1 161.8 510.5C161.6 510.8 161.4 511.3 161.3 511.7C161.1 512.1 160.9 512.5 160.8 512.8C160.6 513.2 160.5 513.3 160.5 513.7C160.4 514.1 160.5 514.8 160.7 514.9C161 515.1 161.6 514.8 161.9 514.7C162.3 514.6 162.4 514.3 162.6 514.1C162.9 513.8 163.2 513.5 163.5 513.2C163.8 512.8 164.2 512.6 164.4 512.2C164.7 511.9 164.8 511.5 165.1 511.1C165.3 510.8 165.5 510.4 165.7 510C165.9 509.7 166.2 509.7 166.2 509.3C166.2 508.8 166.2 507.6 165.8 507.3Z"/>
<path d="M175.7 510.5C175.3 510.3 174.3 511 173.9 511.3C173.6 511.5 173.7 511.6 173.6 511.8C173.5 512 173.3 512.4 173.2 512.6C173.1 512.9 172.9 513.1 172.8 513.4C172.7 513.7 172.7 514.1 172.7 514.4C172.6 514.7 172.5 515 172.5 515.3C172.5 515.5 172.4 515.6 172.5 515.9C172.5 516.3 172.7 517 172.9 517.1C173.2 517.2 173.9 516.8 174.1 516.7C174.4 516.5 174.4 516.4 174.6 516.2C174.8 515.9 175 515.7 175.1 515.4C175.3 515.2 175.6 514.9 175.7 514.7C175.8 514.4 175.9 514.1 176 513.8C176.1 513.5 176.2 513.2 176.3 513C176.4 512.7 176.6 512.8 176.5 512.3C176.4 511.9 176.2 510.7 175.7 510.5Z"/>
<path d="M182.9 511.6C182.5 511.6 181.7 512.5 181.4 512.9C181.1 513.2 181.3 513.4 181.3 513.7C181.2 514 181.2 514.5 181.1 514.9C181 515.3 180.9 515.7 180.9 516.1C180.9 516.5 181 516.9 181 517.3C181.1 517.7 181.1 518.2 181.2 518.6C181.2 518.9 181.1 519.1 181.3 519.4C181.5 519.7 181.8 520.4 182.1 520.4C182.4 520.4 182.9 519.9 183.1 519.6C183.3 519.3 183.3 519.1 183.4 518.8C183.5 518.4 183.6 518 183.7 517.6C183.8 517.2 184 516.8 184.1 516.4C184.1 516 184.1 515.6 184.1 515.2C184.1 514.8 184.2 514.3 184.2 514C184.2 513.6 184.4 513.5 184.2 513.1C184 512.7 183.4 511.6 182.9 511.6Z"/>
<path d="M334.4 460.9C333.4 463.8 335.4 465.1 336.3 468.2C337.2 471.3 338 476 339.6 479.6C341.2 483.2 343.4 487.3 345.9 489.7C348.4 492.1 351.3 493.6 354.4 494C357.5 494.4 361 493.6 364.3 492C367.6 490.4 371.6 487.3 374.4 484.4C377.2 481.4 379.3 478.1 380.9 474.3C382.5 470.5 383.7 465.9 384.1 461.5C384.5 457.1 383.8 452.1 383.5 448.2C383.2 444.3 384.5 440.6 382.5 438C380.5 435.4 376 431.9 371.5 432.3C367 432.7 360.5 437.2 355.6 440.3C350.7 443.4 345.8 447.5 342.3 450.9C338.8 454.3 335.4 458 334.4 460.9Z" fill="#fff" stroke="#050505" stroke-width="3.3"/>
<clipPath id="c6"><path d="M334.4 460.9C333.4 463.8 335.4 465.1 336.3 468.2C337.2 471.3 338 476 339.6 479.6C341.2 483.2 343.4 487.3 345.9 489.7C348.4 492.1 351.3 493.6 354.4 494C357.5 494.4 361 493.6 364.3 492C367.6 490.4 371.6 487.3 374.4 484.4C377.2 481.4 379.3 478.1 380.9 474.3C382.5 470.5 383.7 465.9 384.1 461.5C384.5 457.1 383.8 452.1 383.5 448.2C383.2 444.3 384.5 440.6 382.5 438C380.5 435.4 376 431.9 371.5 432.3C367 432.7 360.5 437.2 355.6 440.3C350.7 443.4 345.8 447.5 342.3 450.9C338.8 454.3 335.4 458 334.4 460.9Z"/></clipPath>
<path d="M320 420C310.5 425.3 334.2 445 338 452C341.8 459 341.5 458.8 342.9 462.2C344.3 465.6 344.9 469.2 346.3 472.2C347.8 475.2 349.6 478 351.6 480.1C353.6 482.2 355.8 484.4 358.2 484.8C360.6 485.2 363.8 483.6 366.2 482.8C368.6 482 370.7 481.1 372.8 480.1C374.9 479.1 376.9 478.2 378.8 476.8C380.8 475.4 381.8 474 384.5 471.5C387.2 469 393.2 470.6 395 462C396.8 453.4 407.5 427 395 420C382.5 413 329.5 414.7 320 420Z" clip-path="url(#c6)"/>
<path d="M338.5 468L343 468" class="tk" stroke-width="1.8"/>
<path d="M340.5 475.5L345 474" class="tk" stroke-width="1.8"/>
<path d="M344 482.5L348.5 479" class="tk" stroke-width="1.8"/>
<path d="M349.5 488.5L353 484" class="tk" stroke-width="1.8"/>
<path d="M356 491.5L358 486.5" class="tk" stroke-width="1.8"/>
<path d="M363.5 490.5L363.5 485.5" class="tk" stroke-width="1.8"/>
<path d="M370.5 486L369 482" class="tk" stroke-width="1.8"/>
<path d="M376 480.5L373.5 477.5" class="tk" stroke-width="1.8"/>
<ellipse cx="368.9" cy="458.9" rx="9.8" ry="17.3" fill="#fff" transform="rotate(-30 368.9 458.9)"/>
<path d="M332.3 461.5C331.6 461 331.3 463.1 333 460.9C334.7 458.7 338.5 452.1 342.3 448.2C346.1 444.3 350.7 440.6 355.6 437.6C360.5 434.6 366 431.9 371.5 430.3C377 428.8 383.3 428.3 388.8 428.3C394.3 428.3 399.4 429 404.7 430.3C410 431.6 415.7 433.5 420.7 436C425.7 438.5 431.1 441.6 434.8 445.2C438.5 448.8 441.6 453.7 443 457.5C444.4 461.3 443.9 464.9 443.2 468.2C442.5 471.5 440.3 475.6 439 477.4C437.7 479.2 436.5 479 435.3 479C434.1 479 432.6 478.4 432 477.5C431.4 476.6 431.4 475.5 432 473.5C432.6 471.5 434.9 468.4 435.3 465.5C435.7 462.6 435.9 459.3 434.6 456.2C433.3 453.1 430.5 449.5 427.3 446.9C424.1 444.2 419.8 442.1 415.4 440.3C411 438.5 405.7 437 400.8 436.3C395.9 435.6 390.8 435.4 386 436C381.2 436.6 376.7 438.3 372 440C367.3 441.7 362.3 443.5 358 446C353.7 448.5 349.5 452 346 455C342.5 458 339.3 462.9 337 464C334.7 465.1 333 462 332.3 461.5Z"/>
<path d="M414.4 434.4C414.6 435.1 415.6 436 416.9 436.1C418.3 436.1 420.2 435.4 422.5 434.9C424.8 434.4 427.9 433.8 430.6 433.1C433.3 432.5 436.1 431.9 438.8 430.9C441.5 430 444.1 428.8 446.8 427.6C449.5 426.4 452.5 424.9 454.7 423.8C457 422.7 459.2 421.7 460.2 421.1C461.2 420.4 460.8 420.2 460.7 420C460.6 419.7 460.7 419.2 459.6 419.5C458.4 419.8 456.1 420.8 453.8 421.7C451.5 422.5 448.4 423.8 445.7 424.8C443 425.7 440.3 426.6 437.6 427.4C435 428.1 432.4 428.8 429.7 429.4C427.1 429.9 424 430.5 421.7 430.9C419.5 431.3 417.3 431.4 416.1 431.9C414.9 432.5 414.3 433.7 414.4 434.4Z"/>
<path d="M424.9 439.9C425 440.6 425.8 441.7 427.1 441.9C428.5 442.1 430.6 441.6 433 441.4C435.3 441.2 438.5 441 441.3 440.7C444.1 440.4 447 440.1 449.8 439.6C452.6 439 455.3 438.2 458.1 437.5C460.9 436.7 464 435.7 466.4 435C468.7 434.3 471.1 433.6 472.1 433.1C473.2 432.6 472.8 432.4 472.7 432.1C472.6 431.8 472.8 431.4 471.7 431.5C470.5 431.6 468.2 432.2 465.8 432.7C463.4 433.2 460.2 434 457.4 434.5C454.6 435 451.9 435.5 449.1 435.9C446.4 436.3 443.7 436.6 440.9 436.8C438.2 437.1 435 437.2 432.7 437.4C430.3 437.5 428.1 437.3 426.9 437.7C425.6 438.1 424.9 439.2 424.9 439.9Z"/>
<path d="M438.4 449.5C438.3 450.2 438.9 451.3 440.3 451.8C441.7 452.3 444.2 452.1 446.8 452.3C449.5 452.5 453 452.8 456.1 452.9C459.3 453.1 462.4 453.3 465.5 453.2C468.7 453 471.8 452.6 474.9 452.2C478 451.8 481.5 451.3 484.2 450.9C486.8 450.4 489.4 450.1 490.6 449.7C491.8 449.4 491.4 449.1 491.3 448.8C491.3 448.5 491.6 448.1 490.4 448.1C489.2 448 486.5 448.3 483.9 448.5C481.3 448.7 477.7 449 474.6 449.2C471.6 449.3 468.5 449.5 465.5 449.4C462.4 449.4 459.4 449.3 456.3 449.1C453.3 448.9 449.8 448.5 447.1 448.2C444.5 448 442.1 447.4 440.7 447.6C439.2 447.8 438.5 448.8 438.4 449.5Z"/>
<path d="M440 459.9C439.8 460.6 440.3 461.9 441.3 462.6C442.3 463.3 444.2 463.5 446.2 464.2C448.1 464.8 450.8 465.7 453.2 466.4C455.5 467.1 457.9 467.8 460.2 468.2C462.6 468.6 465 468.7 467.3 468.9C469.7 469 472.3 469 474.3 469.1C476.3 469.1 478.2 469.2 479.1 469C480.1 468.9 480 468.5 480 468.3C480.1 468 480.2 467.6 479.3 467.4C478.3 467.1 476.4 466.9 474.5 466.7C472.5 466.4 469.9 466.2 467.7 465.8C465.4 465.5 463.2 465.1 461 464.6C458.7 464 456.5 463.4 454.3 462.7C452 462 449.4 461 447.5 460.3C445.5 459.7 443.9 458.7 442.7 458.6C441.4 458.5 440.2 459.3 440 459.9Z"/>
<path d="M431.5 442.4C431.4 442.9 432.4 443.8 432.8 444.1C433.2 444.4 433.5 444.2 434 444.3C434.5 444.4 435.2 444.5 435.8 444.6C436.4 444.7 437 444.9 437.6 445C438.2 445 438.8 445 439.4 445C440 445 440.7 445 441.2 445C441.7 445 442.1 445.1 442.5 445C442.9 444.8 443.5 444.5 443.6 444.1C443.6 443.8 443.1 443.3 442.7 443C442.4 442.8 442 442.8 441.5 442.6C441 442.5 440.4 442.3 439.8 442.1C439.2 442 438.6 441.8 438 441.6C437.5 441.5 436.9 441.5 436.3 441.4C435.7 441.4 435 441.3 434.5 441.2C434 441.2 433.7 440.9 433.2 441.1C432.7 441.3 431.6 441.9 431.5 442.4Z"/>
<path d="M440.6 452.8C440.4 453.3 441.2 454.3 441.5 454.7C441.8 455.1 442.1 455 442.5 455.1C442.9 455.3 443.4 455.5 443.9 455.7C444.4 455.9 444.9 456.2 445.4 456.3C445.9 456.5 446.4 456.5 446.9 456.6C447.4 456.8 448 456.9 448.5 457C448.9 457.1 449.2 457.2 449.6 457.1C450 457.1 450.7 456.9 450.8 456.5C451 456.2 450.5 455.6 450.2 455.3C450 454.9 449.7 454.9 449.3 454.7C448.9 454.5 448.4 454.2 447.9 453.9C447.5 453.7 447 453.4 446.5 453.2C446 453 445.5 452.9 445 452.7C444.5 452.5 444 452.3 443.6 452.2C443.1 452.1 443 451.8 442.5 451.9C442 452 440.8 452.3 440.6 452.8Z"/>
<path d="M441.1 465.6C440.9 466 441.6 467.1 441.9 467.6C442.2 468 442.5 467.9 443 468.1C443.4 468.4 444.1 468.7 444.6 468.9C445.1 469.2 445.7 469.5 446.2 469.7C446.8 469.9 447.4 470.1 447.9 470.3C448.5 470.4 449.2 470.7 449.7 470.8C450.1 470.9 450.5 471.1 450.9 471.1C451.3 471.1 452.1 470.9 452.2 470.6C452.3 470.3 452 469.6 451.7 469.3C451.5 468.9 451.1 468.8 450.7 468.6C450.2 468.3 449.6 467.9 449.1 467.6C448.6 467.3 448.1 466.9 447.6 466.7C447.1 466.4 446.5 466.2 445.9 466C445.4 465.8 444.8 465.5 444.3 465.3C443.8 465.1 443.6 464.8 443.1 464.8C442.6 464.9 441.3 465.1 441.1 465.6Z"/>
<path d="M357.3 512.7C357.2 513.2 357.8 514 358.9 514.3C360 514.7 361.8 514.4 363.9 514.5C365.9 514.5 368.6 514.6 371 514.6C373.4 514.6 375.9 514.6 378.3 514.4C380.7 514.3 382.9 514.1 385.2 513.8C387.5 513.5 389.9 513.2 392.1 512.9C394.3 512.5 396.5 512.1 398.5 511.6C400.5 511.1 402.3 510.5 404 509.9C405.8 509.3 407.4 508.6 408.9 508C410.5 507.3 411.9 506.7 413.3 506C414.7 505.3 416.1 504.6 417.4 503.9C418.6 503.2 419.9 502.5 420.9 501.9C421.9 501.3 422.8 500.9 423.3 500.4C423.7 499.9 423.9 499.2 423.7 498.8C423.5 498.5 422.8 498.3 422.1 498.4C421.5 498.5 420.7 499.2 419.7 499.7C418.7 500.2 417.4 500.9 416.1 501.5C414.9 502.2 413.5 502.8 412.1 503.4C410.7 504 409.3 504.6 407.8 505.2C406.3 505.7 404.7 506.4 403 506.9C401.3 507.5 399.6 508 397.7 508.4C395.8 508.8 393.7 509.2 391.6 509.5C389.4 509.9 387 510.2 384.8 510.4C382.6 510.6 380.4 510.8 378.1 511C375.8 511.1 373.4 511.2 371 511.2C368.6 511.2 365.9 511.1 363.9 511.1C361.9 511.1 360 510.8 358.9 511.1C357.8 511.3 357.3 512.1 357.3 512.7Z"/>
<path d="M380.8 512.7C380.3 512.5 379.3 513.1 378.9 513.4C378.5 513.8 378.6 514.1 378.3 514.6C378.1 515.1 377.8 515.8 377.5 516.3C377.3 516.9 377 517.4 376.8 518C376.5 518.6 376.4 519.2 376.2 519.8C376 520.4 375.8 521.1 375.7 521.6C375.5 522.2 375.3 522.5 375.4 522.9C375.4 523.4 375.6 524 375.8 524.1C376.1 524.2 376.7 523.9 377 523.7C377.3 523.4 377.5 523 377.8 522.5C378 522.1 378.4 521.5 378.7 520.9C379 520.4 379.4 519.8 379.6 519.3C379.9 518.7 380.1 518.1 380.3 517.5C380.6 516.9 380.8 516.3 381 515.8C381.2 515.3 381.5 515.1 381.5 514.6C381.4 514 381.2 512.9 380.8 512.7Z"/>
<path d="M389.2 512.1C388.8 511.9 387.8 512.7 387.5 513C387.1 513.2 387.3 513.4 387.2 513.7C387 514 386.9 514.4 386.7 514.8C386.6 515.1 386.4 515.5 386.3 515.8C386.2 516.2 386.2 516.6 386.2 517C386.1 517.4 386 517.8 386 518.2C386 518.5 385.9 518.7 385.9 519C386 519.3 386.2 520.1 386.5 520.2C386.8 520.2 387.4 519.8 387.7 519.6C387.9 519.4 387.9 519.2 388.1 518.9C388.3 518.6 388.5 518.2 388.7 517.9C388.9 517.5 389.1 517.2 389.3 516.9C389.4 516.5 389.5 516.1 389.6 515.7C389.7 515.4 389.8 514.9 389.9 514.6C390 514.3 390.2 514.3 390.1 513.8C390 513.4 389.7 512.2 389.2 512.1Z"/>
<path d="M395.5 511.4C395.1 511.6 394.9 512.8 394.8 513.3C394.8 513.7 395 513.8 395.1 514.1C395.2 514.4 395.4 514.8 395.6 515.2C395.7 515.6 395.8 516 396 516.3C396.2 516.7 396.5 517 396.7 517.4C397 517.7 397.2 518.1 397.4 518.4C397.6 518.7 397.7 518.9 398 519.1C398.3 519.3 398.9 519.6 399.2 519.5C399.4 519.4 399.6 518.7 399.6 518.3C399.7 518 399.5 517.8 399.5 517.5C399.4 517.1 399.3 516.7 399.2 516.3C399.1 515.9 399 515.4 398.9 515.1C398.7 514.7 398.5 514.3 398.3 514C398.1 513.6 397.9 513.2 397.8 512.9C397.6 512.6 397.8 512.4 397.4 512.1C397 511.9 396 511.2 395.5 511.4Z"/>
<path d="M405.3 508.8C404.9 509.1 404.9 510.3 404.9 510.8C404.9 511.2 405.2 511.3 405.4 511.6C405.6 511.9 405.9 512.3 406.1 512.7C406.3 513.1 406.5 513.5 406.8 513.9C407.1 514.2 407.4 514.5 407.7 514.9C408 515.2 408.4 515.6 408.6 515.8C408.9 516.1 409 516.3 409.4 516.5C409.7 516.6 410.3 516.9 410.6 516.7C410.8 516.6 410.9 515.9 410.8 515.5C410.8 515.1 410.7 515 410.5 514.6C410.4 514.2 410.1 513.8 410 513.4C409.8 513 409.6 512.5 409.4 512.1C409.2 511.7 408.9 511.4 408.6 511C408.4 510.7 408.1 510.3 407.8 510C407.6 509.7 407.7 509.4 407.3 509.2C406.8 509 405.7 508.6 405.3 508.8Z"/>
<path d="M413 505.8C412.6 506.1 412.9 507.3 413.1 507.7C413.2 508.2 413.6 508.2 413.9 508.6C414.2 508.9 414.7 509.3 415.1 509.7C415.5 510.1 415.9 510.5 416.3 510.9C416.7 511.2 417.2 511.5 417.7 511.8C418.2 512.1 418.7 512.5 419.1 512.8C419.5 513 419.7 513.3 420.1 513.4C420.5 513.5 421.2 513.5 421.4 513.3C421.6 513.1 421.4 512.4 421.3 512C421.2 511.7 420.9 511.5 420.6 511.1C420.3 510.7 419.9 510.2 419.5 509.8C419.1 509.4 418.8 508.9 418.4 508.5C418 508.1 417.5 507.8 417.1 507.5C416.7 507.1 416.2 506.7 415.8 506.4C415.5 506.1 415.4 505.8 414.9 505.7C414.5 505.6 413.3 505.4 413 505.8Z"/>
<path d="M419.6 501.3C419.3 501.6 419.7 502.8 419.9 503.2C420 503.6 420.3 503.6 420.5 503.8C420.8 504 421.2 504.3 421.5 504.5C421.8 504.8 422.1 505.1 422.4 505.3C422.8 505.5 423.2 505.7 423.5 505.9C423.9 506 424.3 506.3 424.6 506.4C425 506.5 425.1 506.7 425.5 506.7C425.8 506.7 426.5 506.8 426.7 506.5C426.9 506.3 426.7 505.6 426.5 505.3C426.4 505 426.2 504.9 426 504.6C425.7 504.3 425.4 504 425.1 503.7C424.8 503.4 424.6 503 424.3 502.8C424 502.5 423.6 502.3 423.3 502.1C422.9 501.9 422.5 501.6 422.3 501.4C422 501.2 422 501 421.5 501C421.1 500.9 419.8 500.9 419.6 501.3Z"/>
</g>
<g id="p4">
<path d="M798.4 396C801.9 393.3 812.3 385.6 820.4 381.9C828.5 378.2 837.9 375.4 846.7 373.6C855.5 371.9 863.9 371.1 873 371.4C882.1 371.7 892.8 373.6 901.6 375.4C910.4 377.1 921 380.1 925.7 381.9C930.4 383.7 929.9 384.8 929.9 386.3C929.9 387.8 928.6 390.3 925.7 390.9C922.8 391.5 918.4 391.1 912.5 389.8C906.6 388.5 897.9 384.9 890.6 383.2C883.3 381.5 876.7 379.7 868.6 379.5C860.5 379.3 850.7 380.4 842.3 382.1C833.9 383.8 825.3 387.2 818.2 389.8C811.1 392.4 802.8 397 799.5 398C796.2 399 794.9 398.7 798.4 396Z"/>
<path d="M1006.7 379.8C1011.4 378 1021.3 375 1030.8 373.2C1040.3 371.4 1053.5 369.4 1063.8 369.2C1074 369 1083.2 370 1092.3 372.1C1101.4 374.2 1111.6 378.8 1118.6 381.9C1125.5 385 1132 389 1134 390.7C1136 392.4 1134 393.3 1130.7 392.2C1127.4 391.1 1120.7 386.5 1114.3 384.3C1107.9 382.1 1100.7 380 1092.3 378.9C1083.9 377.8 1072.9 377.3 1063.8 377.8C1054.7 378.3 1045.5 380.3 1037.4 382.1C1029.4 383.9 1021 387.7 1015.5 388.7C1010 389.7 1006.6 389.1 1004.5 388.3C1002.4 387.5 1002.2 385.2 1002.6 383.8C1003 382.4 1002 381.6 1006.7 379.8Z"/>
<path d="M942.4 453.2C940.7 450.1 936.5 440.3 932 434.4C927.5 428.4 921.8 422.5 915.2 417.5C908.6 412.5 900.7 407.8 892.6 404.4C884.5 401 875.1 398.5 866.4 396.9C857.6 395.3 848.9 394.9 840.1 395C831.3 395.1 821.9 396.1 813.8 397.8C805.7 399.5 798.5 402.2 791.3 405.3C784.1 408.4 777 412.5 770.7 416.6C764.5 420.7 758.5 425.5 753.8 429.7C749.1 433.9 744.4 439.9 742.5 442" fill="none" stroke="#3e101c" stroke-width="6.2"/>
<path d="M942.4 453.2C940.7 450.1 936.5 440.3 932 434.4C927.5 428.4 921.8 422.5 915.2 417.5C908.6 412.5 900.7 407.8 892.6 404.4C884.5 401 875.1 398.5 866.4 396.9C857.6 395.3 848.9 394.9 840.1 395C831.3 395.1 821.9 396.1 813.8 397.8C805.7 399.5 798.5 402.2 791.3 405.3C784.1 408.4 777 412.5 770.7 416.6C764.5 420.7 758.5 425.5 753.8 429.7C749.1 433.9 744.4 439.9 742.5 442" fill="none" stroke="#f2647c" stroke-width="2.9"/>
<path class="apo" d="M729.8 441.8L749.6 447.9L731.6 468.9Z"/><path class="ap" d="M729.8 441.8L749.6 447.9L731.6 468.9Z"/>
<path d="M738.8 505.3C741.9 508.8 750.3 520 757.5 526C764.7 532 773.1 536.9 781.9 541C790.7 545.1 801 548.4 810.1 550.4C819.2 552.4 827.5 553.2 836.3 553.2C845 553.2 853.8 552.4 862.6 550.4C871.4 548.4 881.4 544.3 888.9 541C896.4 537.7 901.8 534.4 907.7 530.7C913.6 527 921.7 521 924.5 519" fill="none" stroke="#3e101c" stroke-width="6.2"/>
<path d="M738.8 505.3C741.9 508.8 750.3 520 757.5 526C764.7 532 773.1 536.9 781.9 541C790.7 545.1 801 548.4 810.1 550.4C819.2 552.4 827.5 553.2 836.3 553.2C845 553.2 853.8 552.4 862.6 550.4C871.4 548.4 881.4 544.3 888.9 541C896.4 537.7 901.8 534.4 907.7 530.7C913.6 527 921.7 521 924.5 519" fill="none" stroke="#f2647c" stroke-width="2.9"/>
<path class="apo" d="M917.8 514.6L944.5 498.1L935.3 528.2Z"/><path class="ap" d="M917.8 514.6L944.5 498.1L935.3 528.2Z"/>
<path d="M1189.6 449.4C1187.7 446.3 1183 436.5 1178.3 430.7C1173.6 424.9 1168 419.4 1161.4 414.7C1154.8 410 1147 405.8 1138.9 402.5C1130.8 399.2 1121.4 396.6 1112.6 395C1103.8 393.4 1095 392.9 1086.3 393.1C1077.5 393.3 1068.2 394.3 1060.1 396C1052 397.7 1044.5 400.7 1037.6 403.5C1030.7 406.3 1024 409.9 1018.8 412.8C1013.6 415.7 1008.5 419.6 1006.5 421" fill="none" stroke="#3e101c" stroke-width="6.2"/>
<path d="M1189.6 449.4C1187.7 446.3 1183 436.5 1178.3 430.7C1173.6 424.9 1168 419.4 1161.4 414.7C1154.8 410 1147 405.8 1138.9 402.5C1130.8 399.2 1121.4 396.6 1112.6 395C1103.8 393.4 1095 392.9 1086.3 393.1C1077.5 393.3 1068.2 394.3 1060.1 396C1052 397.7 1044.5 400.7 1037.6 403.5C1030.7 406.3 1024 409.9 1018.8 412.8C1013.6 415.7 1008.5 419.6 1006.5 421" fill="none" stroke="#f2647c" stroke-width="2.9"/>
<path class="apo" d="M996.4 420.1L1011.5 434.5L983 452.1Z"/><path class="ap" d="M996.4 420.1L1011.5 434.5L983 452.1Z"/>
<path d="M986 496.9C988 500.3 992.6 511.2 998.1 517.5C1003.6 523.8 1011 529.7 1018.8 534.4C1026.6 539.1 1035.7 542.9 1045.1 545.7C1054.5 548.5 1065.7 550.5 1075.1 551.3C1084.5 552.1 1092.3 551.8 1101.4 550.4C1110.5 549 1120.8 546.2 1129.5 542.9C1138.2 539.6 1146.1 535.5 1153.9 530.7C1161.7 525.9 1172.7 516.8 1176.5 514" fill="none" stroke="#3e101c" stroke-width="6.2"/>
<path d="M986 496.9C988 500.3 992.6 511.2 998.1 517.5C1003.6 523.8 1011 529.7 1018.8 534.4C1026.6 539.1 1035.7 542.9 1045.1 545.7C1054.5 548.5 1065.7 550.5 1075.1 551.3C1084.5 552.1 1092.3 551.8 1101.4 550.4C1110.5 549 1120.8 546.2 1129.5 542.9C1138.2 539.6 1146.1 535.5 1153.9 530.7C1161.7 525.9 1172.7 516.8 1176.5 514" fill="none" stroke="#f2647c" stroke-width="2.9"/>
<path class="apo" d="M1173.4 510.7L1194.7 494.4L1188.8 521.6Z"/><path class="ap" d="M1173.4 510.7L1194.7 494.4L1188.8 521.6Z"/>
<path d="M874 437.6C871.9 440.9 871.3 449.8 871 454.9C870.7 460 871.4 464.1 872.4 468.2C873.4 472.3 874.8 475.9 877 479.5C879.2 483.1 882.6 487.2 885.9 489.6C889.2 492 893.4 493.9 896.9 494C900.4 494.1 903.8 492.4 906.7 490.2C909.6 488 912.3 484.5 914.2 480.8C916.1 477.1 917.1 471.5 918.1 468.2C919.1 464.9 920.9 464.2 920 460.9C919.1 457.6 916.9 451.9 912.8 448.2C908.7 444.5 900.5 441.1 895.6 438.9C890.7 436.7 887.2 435.1 883.6 434.9C880 434.7 876.1 434.3 874 437.6Z" fill="#fff" stroke="#050505" stroke-width="3.3"/>
<clipPath id="c7"><path d="M874 437.6C871.9 440.9 871.3 449.8 871 454.9C870.7 460 871.4 464.1 872.4 468.2C873.4 472.3 874.8 475.9 877 479.5C879.2 483.1 882.6 487.2 885.9 489.6C889.2 492 893.4 493.9 896.9 494C900.4 494.1 903.8 492.4 906.7 490.2C909.6 488 912.3 484.5 914.2 480.8C916.1 477.1 917.1 471.5 918.1 468.2C919.1 464.9 920.9 464.2 920 460.9C919.1 457.6 916.9 451.9 912.8 448.2C908.7 444.5 900.5 441.1 895.6 438.9C890.7 436.7 887.2 435.1 883.6 434.9C880 434.7 876.1 434.3 874 437.6Z"/></clipPath>
<path d="M860 420C850.2 427 863.8 453.7 866 462C868.2 470.3 871.2 467.9 873 470C874.8 472.1 875 472.9 877 474.8C879 476.7 882 479.9 884.9 481.5C887.8 483.1 891.3 484.3 894.2 484.1C897.1 483.9 900 482.3 902.2 480.1C904.4 477.9 906.1 473.5 907.5 470.8C908.9 468.1 909.2 465.7 910.3 464C911.4 462.3 911.5 461.5 914 460.5C916.5 459.5 923.2 464.8 925 458C926.8 451.2 935.8 426.3 925 420C914.2 413.7 869.8 413 860 420Z" clip-path="url(#c7)"/>
<path d="M880.5 486L883 481.5" class="tk" stroke-width="1.8"/>
<path d="M887 490.5L888.5 485.5" class="tk" stroke-width="1.8"/>
<path d="M894.5 492L894.5 486.5" class="tk" stroke-width="1.8"/>
<path d="M901.5 490L900 485" class="tk" stroke-width="1.8"/>
<path d="M908 485.5L905 481.5" class="tk" stroke-width="1.8"/>
<path d="M912.5 479L908.5 476.5" class="tk" stroke-width="1.8"/>
<path d="M915.5 471.5L911 470" class="tk" stroke-width="1.8"/>
<path d="M917 464L913 463.5" class="tk" stroke-width="1.8"/>
<ellipse cx="885.6" cy="458.9" rx="9.8" ry="17.4" fill="#fff" transform="rotate(31 885.6 458.9)"/>
<path d="M819.1 478C817.9 477.9 816.3 477.2 815.5 476.5C814.7 475.8 815.1 475.6 814.3 473.5C813.5 471.4 811.1 467.5 810.5 464.2C809.9 460.9 809.4 456.8 810.5 453.5C811.6 450.2 813.9 447.1 817.2 444.2C820.5 441.3 825.5 438.5 830.4 436.3C835.3 434.1 840.8 432.1 846.4 430.9C852 429.7 858.2 429.1 863.7 429C869.2 428.9 874.3 429.1 879.6 430.3C884.9 431.5 890.7 433.8 895.6 436.3C900.5 438.9 905.1 442.5 908.9 445.6C912.7 448.7 915.9 452.2 918.2 454.9C920.5 457.5 922.4 460.1 922.5 461.5C922.6 462.9 920.8 464.1 919 463C917.2 461.9 914.8 457.7 912 455C909.2 452.3 905.7 449.3 902 447C898.3 444.7 894.8 442.6 890 441C885.2 439.4 879.2 438.2 873 437.6C866.8 437 859 437.1 853 437.6C847 438.2 841.8 439.3 837.1 440.9C832.5 442.4 828.2 444.3 825.1 446.9C822 449.4 819.5 453.1 818.5 456.2C817.5 459.3 818.3 462.6 819.1 465.5C819.9 468.4 822.5 471.6 823.1 473.5C823.7 475.4 823.2 476.2 822.5 477C821.8 477.8 820.3 478.1 819.1 478Z"/>
<path d="M843.1 434.3C843.2 433.6 842.6 432.5 841.3 431.9C840 431.4 837.8 431.5 835.4 431.1C833 430.8 829.7 430.4 826.9 429.9C824.1 429.4 821.4 428.8 818.6 428.1C815.8 427.4 813 426.5 810.2 425.5C807.3 424.6 804 423.3 801.6 422.4C799.2 421.5 796.7 420.5 795.5 420.2C794.3 419.9 794.5 420.4 794.4 420.7C794.3 420.9 793.8 421.1 794.9 421.8C795.9 422.4 798.3 423.5 800.7 424.6C803.1 425.7 806.3 427.2 809.1 428.4C811.9 429.6 814.7 430.8 817.6 431.7C820.4 432.6 823.4 433.1 826.2 433.7C829.1 434.3 832.3 434.7 834.8 435.1C837.2 435.5 839.3 436.2 840.7 436.1C842.1 435.9 843 435 843.1 434.3Z"/>
<path d="M832.1 439.1C832.1 438.4 831.4 437.3 830.1 436.9C828.7 436.5 826.5 436.8 824 436.8C821.6 436.7 818.3 436.6 815.4 436.5C812.6 436.3 809.7 436.1 806.9 435.8C804 435.5 801.2 435.1 798.3 434.6C795.4 434.2 792.1 433.5 789.6 433.1C787.1 432.7 784.7 432.1 783.5 432.1C782.3 432 782.5 432.4 782.5 432.7C782.4 433 782 433.3 783.1 433.7C784.2 434.2 786.7 434.8 789.1 435.4C791.5 436.1 794.8 437 797.7 437.6C800.6 438.3 803.5 439 806.4 439.5C809.3 439.9 812.3 440.1 815.2 440.3C818.1 440.6 821.4 440.7 823.9 440.8C826.3 440.9 828.5 441.4 829.9 441.1C831.3 440.8 832.1 439.8 832.1 439.1Z"/>
<path d="M816.6 450.3C816.6 449.6 815.9 448.6 814.4 448.3C812.9 448 810.5 448.6 807.9 448.7C805.2 448.9 801.6 449.1 798.5 449.2C795.4 449.3 792.4 449.4 789.3 449.4C786.2 449.5 783.1 449.4 780 449.3C776.9 449.3 773.3 449.1 770.6 449C768 448.9 765.3 448.7 764.1 448.8C762.8 448.8 763.2 449.2 763.2 449.5C763.1 449.8 762.7 450.1 763.9 450.4C765.1 450.7 767.8 451 770.5 451.3C773.1 451.6 776.7 452.1 779.8 452.4C782.9 452.7 786.1 453 789.2 453.2C792.4 453.3 795.5 453.2 798.7 453.1C801.8 453 805.4 452.8 808.1 452.7C810.7 452.6 813.2 452.9 814.6 452.5C816 452.1 816.6 451 816.6 450.3Z"/>
<path d="M813.5 461.4C813.3 460.8 812.1 460 810.9 460C809.7 460 808.2 460.8 806.3 461.4C804.5 461.9 802 462.7 799.8 463.2C797.7 463.8 795.5 464.3 793.4 464.8C791.2 465.2 789.1 465.6 787 465.9C784.8 466.2 782.3 466.5 780.4 466.7C778.6 467 776.7 467.1 775.8 467.4C774.9 467.6 775 468 775.1 468.3C775.1 468.5 775 468.9 776 469C776.9 469.2 778.7 469.1 780.6 469.1C782.5 469.1 785 469 787.3 468.9C789.5 468.8 791.8 468.8 794 468.4C796.3 468.1 798.5 467.5 800.8 467C803 466.5 805.5 465.7 807.4 465.3C809.3 464.8 811.1 464.7 812.1 464C813.1 463.4 813.7 462.1 813.5 461.4Z"/>
<path d="M821 443.6C821 443.1 819.9 442.4 819.5 442.1C819.1 441.8 819 442.1 818.6 442C818.2 442 817.7 442 817.3 442C816.9 442 816.4 441.9 816 441.9C815.6 442 815.1 442.1 814.7 442.2C814.3 442.2 813.8 442.3 813.4 442.4C813 442.4 812.8 442.4 812.5 442.6C812.2 442.8 811.5 443.3 811.5 443.6C811.5 443.9 812.2 444.4 812.5 444.6C812.8 444.8 813 444.8 813.4 444.8C813.8 444.9 814.3 445 814.7 445.1C815.1 445.1 815.6 445.2 816 445.3C816.4 445.3 816.9 445.2 817.3 445.2C817.7 445.2 818.2 445.2 818.6 445.2C819 445.1 819.1 445.4 819.5 445.1C819.9 444.8 821 444.1 821 443.6Z"/>
<path d="M814 454.8C813.9 454.3 812.7 453.7 812.3 453.5C811.8 453.3 811.7 453.6 811.2 453.6C810.8 453.7 810.2 453.7 809.7 453.8C809.2 453.8 808.7 453.8 808.3 453.9C807.8 454 807.3 454.2 806.8 454.4C806.3 454.5 805.8 454.7 805.4 454.8C804.9 455 804.7 455 804.4 455.2C804 455.5 803.5 456 803.5 456.3C803.6 456.7 804.3 457 804.6 457.2C805 457.3 805.3 457.2 805.7 457.3C806.1 457.3 806.7 457.3 807.2 457.3C807.7 457.3 808.3 457.3 808.7 457.3C809.2 457.2 809.7 457.1 810.2 457C810.7 456.9 811.3 456.8 811.7 456.7C812.1 456.6 812.3 456.8 812.7 456.5C813.1 456.2 814.1 455.3 814 454.8Z"/>
<path d="M812.9 466.8C812.8 466.4 811.6 466 811 465.9C810.5 465.8 810.3 466.1 809.9 466.2C809.4 466.3 808.7 466.5 808.2 466.7C807.6 466.8 807 467 806.5 467.2C805.9 467.4 805.4 467.7 804.9 467.9C804.4 468.2 803.7 468.4 803.3 468.7C802.8 468.9 802.5 468.9 802.2 469.2C801.9 469.6 801.4 470.2 801.5 470.5C801.7 470.8 802.4 471.1 802.8 471.2C803.2 471.2 803.5 471.1 804 471C804.5 470.9 805.2 470.8 805.8 470.7C806.4 470.6 806.9 470.5 807.5 470.3C808.1 470.2 808.6 469.9 809.2 469.8C809.7 469.6 810.3 469.3 810.8 469.2C811.3 469 811.6 469.1 812 468.7C812.3 468.3 813.1 467.3 812.9 466.8Z"/>
<path d="M831.6 498.5C831.3 498.8 831.3 499.6 831.5 500.2C831.8 500.8 832.4 501.3 833.1 502.1C833.8 502.9 834.6 503.9 835.6 504.8C836.6 505.7 837.7 506.6 838.9 507.4C840.1 508.1 841.4 508.7 842.8 509.3C844.2 509.9 845.7 510.5 847.4 511C849 511.5 850.7 511.9 852.6 512.4C854.6 512.8 856.6 513.1 858.8 513.5C861 513.8 863.4 514.1 865.7 514.3C868.1 514.5 870.4 514.7 872.9 514.8C875.5 514.9 878.4 514.8 881.2 514.8C884 514.7 887.3 514.6 889.7 514.5C892.1 514.4 894.4 514.5 895.7 514.2C896.9 513.9 897.1 513.1 897.1 512.6C897.1 512.1 896.8 511.4 895.5 511.2C894.3 511 892 511.3 889.6 511.3C887.2 511.4 883.9 511.5 881.2 511.5C878.4 511.5 875.6 511.5 873.1 511.4C870.5 511.3 868.3 511.1 866.1 510.9C863.8 510.7 861.4 510.4 859.3 510.1C857.2 509.8 855.2 509.4 853.4 509C851.5 508.7 849.9 508.2 848.3 507.8C846.8 507.3 845.4 506.8 844.1 506.3C842.8 505.8 841.6 505.2 840.5 504.6C839.4 504 838.4 503.3 837.5 502.6C836.6 501.9 835.7 500.9 835 500.3C834.3 499.6 833.9 498.9 833.3 498.6C832.7 498.3 831.9 498.3 831.6 498.5Z"/>
<path d="M834.2 501.3C834 500.9 832.7 500.9 832.3 501C831.9 501 831.9 501.2 831.7 501.3C831.4 501.5 831.1 501.7 830.7 501.9C830.4 502.1 830.1 502.2 829.8 502.5C829.6 502.7 829.4 503 829.1 503.3C828.9 503.5 828.6 503.8 828.4 504.1C828.2 504.3 828 504.4 827.9 504.7C827.8 505 827.5 505.7 827.7 505.9C827.8 506.2 828.6 506.1 828.9 506.1C829.2 506.1 829.4 506 829.7 505.9C829.9 505.8 830.3 505.6 830.7 505.5C831 505.3 831.3 505.2 831.7 505C832 504.9 832.2 504.6 832.5 504.4C832.8 504.2 833.1 503.9 833.3 503.7C833.6 503.5 833.8 503.7 833.9 503.2C834.1 502.8 834.5 501.7 834.2 501.3Z"/>
<path d="M840.8 507.1C840.5 506.8 839.3 506.8 838.8 506.9C838.4 507 838.3 507.2 838 507.5C837.7 507.7 837.3 508 836.9 508.3C836.5 508.6 836.1 508.8 835.8 509.1C835.4 509.4 835.1 509.8 834.8 510.2C834.5 510.5 834.1 510.9 833.9 511.2C833.6 511.5 833.4 511.7 833.2 512C833.1 512.3 832.9 513 833.1 513.3C833.3 513.5 834 513.5 834.4 513.4C834.7 513.4 834.9 513.2 835.3 513C835.6 512.8 836.1 512.5 836.5 512.3C836.9 512 837.3 511.9 837.7 511.6C838.1 511.3 838.4 511 838.8 510.7C839.1 510.4 839.5 510 839.8 509.7C840.1 509.5 840.4 509.5 840.6 509.1C840.7 508.7 841.1 507.5 840.8 507.1Z"/>
<path d="M849.2 510.3C848.9 510 847.7 510.4 847.3 510.6C846.9 510.7 846.9 510.9 846.7 511.2C846.5 511.5 846.2 511.8 845.9 512.2C845.7 512.5 845.4 512.8 845.1 513.1C844.9 513.4 844.8 513.8 844.6 514.2C844.4 514.6 844.2 515 844 515.3C843.9 515.7 843.7 515.8 843.7 516.2C843.7 516.5 843.6 517.2 843.9 517.4C844.1 517.6 844.8 517.4 845.1 517.2C845.4 517.1 845.5 516.9 845.8 516.7C846.1 516.5 846.4 516.1 846.7 515.8C847 515.6 847.4 515.3 847.7 515C847.9 514.7 848.1 514.3 848.4 514C848.6 513.6 848.9 513.3 849 513C849.2 512.7 849.5 512.7 849.5 512.2C849.6 511.8 849.6 510.6 849.2 510.3Z"/>
<path d="M858.9 511.4C858.5 511.2 857.5 511.9 857.1 512.2C856.7 512.4 856.9 512.7 856.7 513C856.5 513.3 856.3 513.8 856.1 514.2C856 514.6 855.7 515 855.6 515.4C855.5 515.8 855.4 516.3 855.3 516.7C855.2 517.1 855.1 517.6 855 518C854.9 518.4 854.8 518.6 854.9 519C854.9 519.3 855.1 520 855.4 520.1C855.6 520.2 856.2 519.9 856.5 519.6C856.8 519.4 856.9 519.2 857.1 518.9C857.3 518.6 857.6 518.1 857.8 517.7C858 517.4 858.3 517 858.5 516.6C858.7 516.2 858.8 515.8 859 515.4C859.1 514.9 859.3 514.5 859.4 514.1C859.5 513.8 859.8 513.7 859.7 513.2C859.6 512.8 859.4 511.6 858.9 511.4Z"/>
<path d="M865.6 512C865.1 512 864.5 513.1 864.3 513.5C864.1 513.9 864.3 514 864.3 514.4C864.3 514.7 864.4 515.2 864.4 515.6C864.4 516 864.4 516.4 864.4 516.8C864.5 517.2 864.7 517.6 864.8 518C864.9 518.4 865 518.9 865.1 519.2C865.2 519.6 865.2 519.8 865.4 520.1C865.6 520.4 866.1 520.9 866.4 520.9C866.7 520.9 867 520.2 867.2 519.9C867.4 519.6 867.3 519.4 867.3 519C867.4 518.7 867.4 518.2 867.5 517.8C867.5 517.4 867.6 517 867.6 516.6C867.6 516.1 867.5 515.7 867.4 515.3C867.3 514.9 867.3 514.5 867.2 514.1C867.2 513.8 867.4 513.6 867.1 513.3C866.8 512.9 866 512 865.6 512Z"/>
<path d="M872.4 512.1C872 512.4 871.7 513.5 871.7 514C871.7 514.6 872.1 514.9 872.4 515.4C872.6 516 873 516.8 873.3 517.4C873.6 518.1 873.9 518.8 874.2 519.4C874.6 520 875 520.6 875.4 521.3C875.8 521.9 876.3 522.6 876.6 523.1C877 523.7 877.1 524.1 877.5 524.4C877.8 524.7 878.4 524.9 878.7 524.8C879 524.7 879.1 524 879.1 523.6C879.1 523.2 878.8 522.7 878.6 522.1C878.4 521.5 878.1 520.7 877.8 520.1C877.6 519.4 877.4 518.7 877.1 518C876.8 517.3 876.4 516.7 876 516.1C875.7 515.4 875.3 514.7 875 514.1C874.7 513.6 874.7 513.1 874.3 512.8C873.8 512.4 872.8 511.9 872.4 512.1Z"/>
<path d="M1058.9 458.9C1059 462.1 1059.1 466.8 1060.2 470.4C1061.3 474 1063 477.7 1065.3 480.6C1067.6 483.6 1070.8 486.4 1074.2 488.1C1077.6 489.8 1081.9 490.9 1085.4 490.7C1088.9 490.5 1092.5 489.1 1095.2 487C1097.9 484.9 1099.9 481.3 1101.5 478.2C1103.1 475.1 1104 471.4 1104.6 468.2C1105.2 465 1105.3 462.2 1105.2 458.9C1105.1 455.6 1104.8 451.5 1104 448.2C1103.2 444.9 1103.4 441.5 1100.3 438.9C1097.2 436.2 1090.6 433.2 1085.4 432.3C1080.2 431.4 1073.5 432.1 1069.4 433.6C1065.3 435.2 1062.7 438.7 1061 441.6C1059.3 444.5 1059.8 448 1059.4 450.9C1059.1 453.8 1058.8 455.6 1058.9 458.9Z" fill="#fff" stroke="#050505" stroke-width="3.3"/>
<clipPath id="c8"><path d="M1058.9 458.9C1059 462.1 1059.1 466.8 1060.2 470.4C1061.3 474 1063 477.7 1065.3 480.6C1067.6 483.6 1070.8 486.4 1074.2 488.1C1077.6 489.8 1081.9 490.9 1085.4 490.7C1088.9 490.5 1092.5 489.1 1095.2 487C1097.9 484.9 1099.9 481.3 1101.5 478.2C1103.1 475.1 1104 471.4 1104.6 468.2C1105.2 465 1105.3 462.2 1105.2 458.9C1105.1 455.6 1104.8 451.5 1104 448.2C1103.2 444.9 1103.4 441.5 1100.3 438.9C1097.2 436.2 1090.6 433.2 1085.4 432.3C1080.2 431.4 1073.5 432.1 1069.4 433.6C1065.3 435.2 1062.7 438.7 1061 441.6C1059.3 444.5 1059.8 448 1059.4 450.9C1059.1 453.8 1058.8 455.6 1058.9 458.9Z"/></clipPath>
<path d="M1045 420C1035.7 427 1053.2 453.5 1056 462C1058.8 470.5 1060.1 468.6 1062 471C1063.9 473.4 1065.3 474.6 1067.4 476.1C1069.5 477.6 1071.7 479.7 1074.7 480.1C1077.7 480.6 1082.3 480.1 1085.4 478.8C1088.5 477.5 1091.2 474.6 1093.4 472.2C1095.6 469.8 1097.5 466.6 1098.7 464.2C1099.9 461.8 1099.9 459.3 1100.8 457.5C1101.7 455.7 1102.1 454.4 1104 453.5C1105.9 452.6 1110.7 457.6 1112 452C1113.3 446.4 1123.2 425.3 1112 420C1100.8 414.7 1054.3 413 1045 420Z" clip-path="url(#c8)"/>
<path d="M1069.5 484L1071.5 479.5" class="tk" stroke-width="1.8"/>
<path d="M1076 487.5L1077 482.5" class="tk" stroke-width="1.8"/>
<path d="M1083 488.5L1083 483" class="tk" stroke-width="1.8"/>
<path d="M1089.5 486.5L1088.5 481.5" class="tk" stroke-width="1.8"/>
<path d="M1095 482L1093 478" class="tk" stroke-width="1.8"/>
<path d="M1099.5 476L1096 473.5" class="tk" stroke-width="1.8"/>
<path d="M1102 468.5L1098.5 467" class="tk" stroke-width="1.8"/>
<path d="M1103 461L1099.5 460.5" class="tk" stroke-width="1.8"/>
<ellipse cx="1072.1" cy="459.5" rx="8.6" ry="16.7" fill="#fff" transform="rotate(23.5 1072.1 459.5)"/>
<path d="M1011.3 463.3C1010.6 462.6 1009.2 462.5 1010.3 460.2C1011.3 457.9 1014.4 453.2 1017.6 449.6C1020.8 446.1 1024.9 442 1029.6 438.9C1034.2 435.8 1039.8 432.8 1045.5 430.9C1051.2 429 1057.9 428.2 1064.1 427.6C1070.3 427.1 1076.9 427.1 1082.7 427.6C1088.5 428.2 1093.8 429 1098.7 430.9C1103.6 432.8 1108.5 435.8 1112 438.9C1115.5 442 1118.1 445.8 1119.9 449.6C1121.7 453.4 1122.6 457.7 1122.6 461.5C1122.6 465.3 1121.1 469.5 1119.9 472.2C1118.7 474.9 1116.7 476.4 1115.3 477.5C1113.9 478.6 1112.6 479 1111.5 478.8C1110.4 478.6 1109.2 477.3 1108.8 476.5C1108.4 475.7 1108.5 475.8 1109.3 474C1110 472.2 1112.6 468.2 1113.3 465.5C1114 462.8 1114.2 460.1 1113.3 457.5C1112.4 454.9 1110.2 452.3 1108 449.6C1105.8 446.9 1103.3 443.6 1100 441.5C1096.7 439.4 1092.3 437.9 1088 437C1083.7 436.1 1078.7 436.1 1074 436C1069.3 435.9 1064.4 435.9 1060.1 436.3C1055.8 436.7 1052.4 437.1 1048.2 438.3C1044 439.5 1038.9 441.3 1034.9 443.6C1030.9 445.9 1027.2 449.3 1024.2 452.2C1021.2 455.1 1018.5 458.8 1016.9 460.9C1015.3 462.9 1015.4 464.1 1014.5 464.5C1013.6 464.9 1012 464 1011.3 463.3Z"/>
<path d="M1003 458.2Q1013 447.5 1022.9 436.9" fill="none" stroke="#333" stroke-width="1.8" stroke-linecap="round"/>
<path d="M1095.9 430.6C1096 431.3 1097.1 432.3 1098.2 432.5C1099.3 432.7 1100.8 432.2 1102.7 432C1104.5 431.8 1107 431.6 1109.1 431.3C1111.3 431 1113.5 430.8 1115.7 430.2C1117.9 429.7 1120 428.9 1122.1 428.1C1124.3 427.4 1126.7 426.4 1128.5 425.7C1130.3 424.9 1132.1 424.3 1132.9 423.8C1133.7 423.3 1133.5 423 1133.4 422.7C1133.3 422.5 1133.3 422.1 1132.3 422.2C1131.4 422.3 1129.6 422.9 1127.7 423.4C1125.9 423.9 1123.4 424.7 1121.3 425.2C1119.1 425.7 1117 426.2 1114.9 426.6C1112.8 427 1110.8 427.2 1108.7 427.5C1106.5 427.7 1104.1 427.9 1102.3 428C1100.5 428.1 1098.9 427.9 1097.8 428.3C1096.8 428.7 1095.8 429.9 1095.9 430.6Z"/>
<path d="M1106.4 436.3C1106.4 437 1107.2 438.1 1108.4 438.5C1109.7 438.9 1111.6 438.5 1113.7 438.6C1115.9 438.6 1118.8 438.7 1121.3 438.6C1123.9 438.5 1126.5 438.5 1129.1 438.2C1131.6 437.8 1134.2 437.1 1136.7 436.5C1139.2 435.9 1142.1 435 1144.2 434.4C1146.3 433.8 1148.4 433.3 1149.4 432.8C1150.4 432.4 1150.1 432.1 1150 431.8C1150 431.5 1150.1 431.1 1149 431.2C1147.9 431.2 1145.8 431.7 1143.7 432.1C1141.5 432.5 1138.6 433.1 1136.1 433.5C1133.6 433.9 1131.1 434.3 1128.6 434.4C1126.2 434.6 1123.8 434.7 1121.3 434.7C1118.8 434.7 1115.9 434.6 1113.8 434.5C1111.7 434.4 1109.8 434 1108.6 434.3C1107.3 434.6 1106.4 435.6 1106.4 436.3Z"/>
<path d="M1114.4 446.1C1114.4 446.8 1115.1 447.9 1116.4 448.3C1117.6 448.7 1119.7 448.5 1122 448.6C1124.3 448.7 1127.4 448.9 1130.1 448.9C1132.8 448.9 1135.6 449 1138.3 448.8C1141 448.5 1143.7 447.9 1146.4 447.4C1149.1 446.8 1152.2 446 1154.4 445.5C1156.7 444.9 1158.9 444.4 1160 444C1161 443.6 1160.7 443.3 1160.6 443C1160.6 442.8 1160.7 442.3 1159.6 442.4C1158.5 442.4 1156.2 442.8 1154 443.2C1151.7 443.5 1148.6 444 1145.9 444.3C1143.3 444.7 1140.6 444.9 1138 445C1135.4 445.2 1132.8 445.1 1130.2 445C1127.5 444.9 1124.5 444.7 1122.2 444.5C1120 444.4 1117.9 443.8 1116.6 444.1C1115.3 444.4 1114.4 445.4 1114.4 446.1Z"/>
<path d="M1119.5 456.6C1119.3 457.2 1119.7 458.5 1120.8 459.3C1121.8 460 1123.8 460.4 1125.8 461.1C1127.9 461.9 1130.7 463 1133.2 463.7C1135.6 464.5 1138.1 465.4 1140.6 465.8C1143.1 466.3 1145.6 466.3 1148.1 466.5C1150.5 466.6 1153.3 466.5 1155.4 466.5C1157.5 466.5 1159.5 466.5 1160.5 466.3C1161.5 466.2 1161.3 465.8 1161.3 465.5C1161.4 465.2 1161.5 464.9 1160.5 464.7C1159.6 464.4 1157.5 464.3 1155.5 464.1C1153.5 463.9 1150.7 463.7 1148.4 463.4C1146 463.1 1143.7 462.7 1141.4 462.2C1139.1 461.6 1136.7 460.9 1134.4 460.1C1132 459.3 1129.3 458.1 1127.3 457.3C1125.2 456.6 1123.5 455.5 1122.2 455.3C1121 455.2 1119.8 455.9 1119.5 456.6Z"/>
<path d="M1118.3 464.4C1118 465 1118.3 466.3 1119.3 467.2C1120.3 468.1 1122.3 468.7 1124.5 469.6C1126.6 470.6 1129.4 472.1 1131.9 473.1C1134.4 474.2 1136.9 475.3 1139.4 476.1C1142 476.8 1144.5 477.2 1147 477.6C1149.5 478 1152.4 478.3 1154.5 478.5C1156.6 478.7 1158.6 479 1159.7 478.9C1160.7 478.9 1160.6 478.5 1160.6 478.2C1160.7 477.9 1160.9 477.6 1159.9 477.3C1159 476.9 1156.9 476.6 1154.9 476.1C1152.8 475.7 1150 475.2 1147.6 474.6C1145.3 474 1142.9 473.4 1140.6 472.5C1138.2 471.7 1135.8 470.7 1133.5 469.6C1131.1 468.5 1128.3 467 1126.2 466C1124.2 465 1122.4 463.7 1121.1 463.4C1119.8 463.1 1118.6 463.7 1118.3 464.4Z"/>
<path d="M1111.5 441.1C1111.5 441.6 1112.4 442.5 1112.8 442.8C1113.2 443.1 1113.5 442.9 1113.9 443C1114.4 443 1115 443.1 1115.5 443.2C1116 443.3 1116.5 443.4 1117.1 443.4C1117.6 443.4 1118.1 443.4 1118.7 443.4C1119.2 443.3 1119.8 443.3 1120.3 443.3C1120.7 443.3 1121 443.4 1121.4 443.2C1121.8 443 1122.5 442.6 1122.5 442.3C1122.5 442 1121.9 441.4 1121.6 441.2C1121.3 441 1121 441 1120.5 440.9C1120.1 440.7 1119.5 440.6 1119 440.5C1118.5 440.3 1117.9 440.2 1117.4 440.1C1116.9 440 1116.4 440 1115.8 440C1115.3 439.9 1114.7 439.9 1114.3 439.9C1113.8 439.8 1113.6 439.6 1113.2 439.8C1112.7 440 1111.6 440.6 1111.5 441.1Z"/>
<path d="M1119.5 452.3C1119.5 452.8 1120.4 453.7 1120.8 454C1121.2 454.3 1121.4 454.1 1121.9 454.2C1122.3 454.2 1122.9 454.3 1123.4 454.4C1123.9 454.5 1124.4 454.6 1124.9 454.7C1125.4 454.7 1125.9 454.6 1126.4 454.6C1127 454.6 1127.5 454.6 1128 454.6C1128.4 454.6 1128.7 454.7 1129.1 454.5C1129.4 454.3 1130.2 454 1130.2 453.6C1130.2 453.3 1129.6 452.8 1129.3 452.5C1129 452.3 1128.7 452.3 1128.3 452.2C1127.9 452 1127.3 451.9 1126.8 451.7C1126.3 451.6 1125.8 451.4 1125.3 451.3C1124.8 451.2 1124.3 451.3 1123.8 451.2C1123.3 451.2 1122.7 451.1 1122.3 451.1C1121.8 451 1121.6 450.8 1121.2 451C1120.7 451.2 1119.6 451.8 1119.5 452.3Z"/>
<path d="M1034.6 513.1C1034.6 513.6 1035.1 514.4 1036.2 514.7C1037.2 515 1039 514.8 1040.9 514.8C1042.9 514.9 1045.5 515 1047.8 515C1050.2 515 1052.6 514.9 1054.9 514.8C1057.2 514.6 1059.4 514.4 1061.7 514.1C1064 513.8 1066.4 513.4 1068.6 513C1070.8 512.6 1073 512.2 1075.1 511.6C1077.2 511 1079.2 510.4 1081.1 509.7C1083 509 1084.9 508.1 1086.6 507.4C1088.3 506.7 1089.9 506 1091.3 505.3C1092.7 504.7 1093.9 504 1095.1 503.4C1096.2 502.8 1097.2 502.1 1098 501.6C1098.8 501.1 1099.5 500.9 1099.9 500.4C1100.3 499.9 1100.5 499.2 1100.3 498.8C1100.1 498.5 1099.3 498.3 1098.7 498.4C1098.1 498.5 1097.5 499 1096.7 499.5C1095.9 499.9 1094.9 500.5 1093.8 501C1092.7 501.5 1091.5 502.1 1090.1 502.7C1088.7 503.3 1087.2 503.9 1085.5 504.6C1083.8 505.3 1081.9 506 1080.1 506.7C1078.2 507.3 1076.3 507.9 1074.3 508.4C1072.3 508.9 1070.2 509.3 1068 509.7C1065.8 510.1 1063.5 510.5 1061.3 510.7C1059 511 1056.9 511.2 1054.7 511.4C1052.4 511.6 1050.1 511.6 1047.8 511.7C1045.5 511.7 1042.9 511.6 1041 511.6C1039.1 511.6 1037.3 511.3 1036.2 511.5C1035.2 511.7 1034.6 512.5 1034.6 513.1Z"/>
<path d="M1071.1 512C1070.7 512.1 1070.2 513.3 1070 513.7C1069.9 514.1 1070.1 514.2 1070.2 514.6C1070.2 514.9 1070.3 515.4 1070.4 515.8C1070.4 516.2 1070.4 516.6 1070.6 517C1070.7 517.4 1070.9 517.8 1071 518.2C1071.2 518.6 1071.4 519 1071.5 519.4C1071.7 519.7 1071.7 519.9 1071.9 520.2C1072.2 520.4 1072.7 520.9 1073 520.9C1073.3 520.8 1073.6 520.1 1073.7 519.8C1073.8 519.5 1073.7 519.3 1073.7 518.9C1073.7 518.5 1073.7 518.1 1073.7 517.6C1073.7 517.2 1073.7 516.8 1073.6 516.4C1073.6 516 1073.4 515.6 1073.3 515.2C1073.2 514.8 1073.1 514.3 1073 514C1072.9 513.6 1073.1 513.4 1072.8 513.1C1072.5 512.8 1071.6 511.9 1071.1 512Z"/>
<path d="M1078.3 510C1077.9 510.2 1077.5 511.4 1077.3 511.8C1077.2 512.2 1077.4 512.2 1077.5 512.5C1077.5 512.7 1077.6 513.1 1077.7 513.5C1077.7 513.8 1077.8 514.1 1077.9 514.5C1078 514.8 1078.2 515.1 1078.4 515.4C1078.5 515.7 1078.7 516 1078.8 516.3C1079 516.6 1079 516.7 1079.2 516.9C1079.5 517.1 1080 517.6 1080.3 517.6C1080.6 517.5 1080.9 516.8 1081 516.5C1081.1 516.2 1081 516 1081 515.7C1081 515.4 1081 515 1081 514.7C1081 514.3 1081 514 1080.9 513.6C1080.9 513.3 1080.7 513 1080.6 512.7C1080.5 512.4 1080.4 512 1080.3 511.7C1080.2 511.4 1080.4 511.3 1080.1 511C1079.7 510.8 1078.8 509.9 1078.3 510Z"/>
<path d="M1087.9 506.9C1087.5 507.1 1087.5 508.3 1087.6 508.8C1087.6 509.3 1087.9 509.4 1088.2 509.8C1088.5 510.2 1088.8 510.7 1089.1 511.2C1089.5 511.7 1089.7 512.1 1090.1 512.6C1090.4 513 1090.9 513.4 1091.2 513.8C1091.6 514.2 1092.1 514.7 1092.4 515C1092.7 515.4 1092.9 515.7 1093.3 515.8C1093.6 516 1094.3 516.2 1094.5 516C1094.8 515.9 1094.8 515.2 1094.7 514.8C1094.7 514.4 1094.4 514.1 1094.2 513.7C1094 513.3 1093.7 512.7 1093.4 512.2C1093.2 511.7 1092.9 511.2 1092.6 510.7C1092.3 510.3 1091.9 509.8 1091.6 509.4C1091.3 509 1090.9 508.5 1090.6 508.1C1090.3 507.7 1090.3 507.4 1089.8 507.2C1089.4 507 1088.3 506.6 1087.9 506.9Z"/>
<path d="M1096.1 502.6C1095.9 503 1096.3 504.1 1096.5 504.6C1096.7 505 1097 504.9 1097.3 505.1C1097.6 505.4 1098 505.7 1098.3 505.9C1098.7 506.2 1099 506.5 1099.4 506.7C1099.8 506.9 1100.3 507.1 1100.7 507.3C1101.1 507.4 1101.5 507.7 1101.9 507.8C1102.3 508 1102.4 508.1 1102.8 508.1C1103.2 508.2 1103.9 508.1 1104 507.9C1104.2 507.6 1103.9 507 1103.8 506.7C1103.6 506.3 1103.4 506.2 1103.1 505.9C1102.9 505.7 1102.5 505.3 1102.2 505C1101.8 504.7 1101.5 504.4 1101.2 504.1C1100.8 503.8 1100.4 503.6 1100 503.4C1099.6 503.2 1099.2 502.9 1098.9 502.7C1098.6 502.5 1098.5 502.2 1098.1 502.2C1097.6 502.2 1096.4 502.2 1096.1 502.6Z"/>
</g>
<g id="p5">
<path class="abo" d="M72.6 708.2L83.4 708.2L83.4 734.4L89.1 733.4L78 755.8L66.9 733.4L72.6 734.4Z"/><path class="ab" d="M72.6 708.2L83.4 708.2L83.4 734.4L89.1 733.4L78 755.8L66.9 733.4L72.6 734.4Z"/>
<path class="abo" d="M466.2 714.7L475.8 714.7L475.8 739.7L481.9 738.7L471 761.4L460.1 738.7L466.2 739.7Z"/><path class="ab" d="M466.2 714.7L475.8 714.7L475.8 739.7L481.9 738.7L471 761.4L460.1 738.7L466.2 739.7Z"/>
<path d="M116.1 682.7C118.1 680 123.9 672.7 128.5 668.1C133.1 663.5 138.2 659 143.7 655.2C149.2 651.4 155.1 648 161.3 645.2C167.6 642.4 174.5 640 181.2 638.2C187.8 636.5 194.3 635.4 201.2 634.7C208 634 216.6 633.9 222.3 633.8C228 633.7 232.3 633.7 235.2 634.3C238.1 634.9 239 636.3 239.5 637.6C240 638.9 240 640.6 238.1 641.9C236.2 643.2 232.3 644.7 228.1 645.4C223.9 646.1 218.2 646 212.9 646.2C207.6 646.4 202 646.2 196.5 646.6C191 647 185.6 647 180.1 648.3C174.6 649.6 168.7 652.1 163.6 654.2C158.5 656.3 154.1 658.2 149.6 660.7C145.1 663.2 140.8 666.5 136.7 669.5C132.6 672.5 128.2 676.3 124.9 678.8C121.6 681.3 118.2 683.9 116.7 684.5C115.2 685.1 114.1 685.4 116.1 682.7Z"/>
<path d="M317.7 627.9C318.3 626.8 319.2 625.3 322.6 625.1C326 624.9 332.5 625.6 337.8 626.5C343.1 627.4 348.8 628.9 354.3 630.6C359.8 632.3 365.2 634 370.7 636.5C376.2 639 381.8 642.5 387.1 645.9C392.4 649.3 397.4 653.2 402.3 657C407.2 660.8 412.3 664.8 416.4 668.7C420.5 672.6 424.1 676.9 427 680.5C429.9 684.1 432.7 688.2 433.6 690.1C434.5 692 434.1 693.1 432.2 692C430.3 690.9 425.9 686.8 422.3 683.2C418.7 679.6 414.4 674.1 410.5 670.3C406.6 666.5 403.1 663.5 398.8 660.4C394.5 657.3 389.6 654.1 384.7 651.6C379.8 649.1 374.6 646.8 369.5 645.1C364.4 643.4 359.4 642.5 354.3 641.6C349.2 640.7 343.7 640.7 339 639.8C334.3 638.9 329.4 637.7 326.1 636.3C322.8 634.9 320.5 633 319.1 631.6C317.7 630.2 317.1 629 317.7 627.9Z"/>
<path d="M139.7 753.9C139 754.5 139 756.6 139.6 757.8C140.1 759.1 141.6 760 143 761.4C144.4 762.9 146.3 765 148.1 766.6C149.9 768.3 151.8 770 153.8 771.5C155.7 772.9 157.7 774 159.8 775.2C161.8 776.3 164 777.4 166.2 778.4C168.4 779.3 170.8 780.2 173.2 780.9C175.6 781.6 178.2 782.2 180.8 782.7C183.4 783.2 186.1 783.6 188.8 783.8C191.6 784 194.2 784.2 197.1 784C200 783.8 203.2 783.2 206.2 782.6C209.2 782 212.7 781 215.3 780.4C217.9 779.7 220.4 779.2 221.6 778.7C222.8 778.1 222.7 777.5 222.6 777.1C222.5 776.7 222.3 776.1 221 776.1C219.7 776.2 217.2 776.9 214.6 777.4C212.1 777.9 208.6 778.7 205.6 779.1C202.7 779.6 199.6 779.9 196.9 780C194.2 780.1 191.8 779.8 189.2 779.6C186.7 779.3 184.1 778.8 181.7 778.2C179.2 777.7 176.9 777 174.6 776.3C172.4 775.6 170.3 774.7 168.2 773.8C166.2 772.9 164.2 771.8 162.3 770.7C160.5 769.6 158.8 768.5 157 767.1C155.3 765.8 153.5 764.2 151.8 762.6C150.1 761.1 148.4 759.1 147 757.6C145.6 756.2 144.9 754.6 143.6 754C142.4 753.4 140.4 753.2 139.7 753.9Z"/>
<path d="M145.2 760.5C145.4 760.1 145.2 759.3 144.3 758.8C143.4 758.2 141.5 758 139.7 757.4C137.8 756.8 135.2 756.1 133 755.4C130.8 754.7 128.6 754 126.4 753.1C124.2 752.3 122 751.3 119.8 750.4C117.5 749.4 115 748.2 113.1 747.4C111.2 746.5 109.3 745.6 108.4 745.3C107.4 745 107.6 745.4 107.6 745.5C107.5 745.7 107 745.8 107.8 746.3C108.6 746.9 110.6 747.8 112.4 748.7C114.3 749.7 116.8 751 119 752.1C121.2 753.2 123.4 754.2 125.6 755.2C127.8 756.1 130 756.9 132.2 757.7C134.5 758.5 137 759.3 138.9 759.9C140.7 760.5 142.4 761.3 143.5 761.4C144.5 761.5 145.1 761 145.2 760.5Z"/>
<path d="M149.9 767C149.9 766.6 149.8 765.8 148.5 765.6C147.3 765.4 144.8 765.6 142.2 765.5C139.7 765.5 136.3 765.5 133.3 765.4C130.3 765.3 127.4 765.1 124.4 764.8C121.4 764.5 118.4 764 115.4 763.5C112.5 763 109 762.3 106.4 761.8C103.9 761.3 101.3 760.7 100.1 760.6C99 760.5 99.5 760.9 99.4 761.1C99.4 761.3 98.8 761.4 99.9 761.8C101 762.2 103.6 762.7 106.1 763.3C108.7 763.9 112.1 764.7 115.1 765.3C118.1 766 121.1 766.6 124.1 767C127.1 767.4 130.2 767.6 133.2 767.8C136.2 768 139.6 768 142.2 768.1C144.7 768.3 147.2 768.6 148.5 768.4C149.8 768.2 149.9 767.5 149.9 767Z"/>
<path d="M156.8 772.5C156.7 772.1 156.2 771.4 155.1 771.4C154 771.4 152.2 772.1 150.2 772.5C148.2 773 145.5 773.6 143.2 774.1C140.9 774.5 138.5 775 136.2 775.4C133.9 775.7 131.5 776 129.2 776.3C126.9 776.6 124.2 776.8 122.2 777C120.2 777.2 118.2 777.3 117.3 777.5C116.3 777.7 116.7 777.9 116.7 778.1C116.7 778.3 116.4 778.6 117.3 778.7C118.3 778.8 120.3 778.6 122.3 778.5C124.3 778.4 127 778.3 129.4 778.1C131.7 778 134.1 777.8 136.5 777.5C138.9 777.3 141.3 776.8 143.6 776.4C146 776 148.7 775.5 150.7 775.1C152.7 774.7 154.7 774.6 155.7 774.2C156.7 773.7 156.9 773 156.8 772.5Z"/>
<path d="M165.9 777.9C165.7 777.5 164.8 777.2 164 777.4C163.3 777.5 162.5 778.3 161.4 778.9C160.3 779.5 158.9 780.4 157.6 781.1C156.3 781.7 155.1 782.4 153.9 783C152.6 783.6 151.4 784.1 150.1 784.7C148.9 785.2 147.4 785.7 146.3 786.1C145.3 786.6 144.2 786.9 143.7 787.2C143.2 787.5 143.3 787.8 143.3 788C143.4 788.2 143.5 788.4 144.1 788.4C144.7 788.3 145.7 787.9 146.8 787.6C148 787.3 149.5 786.8 150.8 786.4C152.1 786 153.4 785.5 154.7 785C156.1 784.5 157.4 783.8 158.7 783.2C160 782.6 161.5 781.8 162.6 781.2C163.7 780.6 164.8 780.4 165.4 779.8C165.9 779.3 166.2 778.3 165.9 777.9Z"/>
<path d="M175 781.1C174.7 780.7 173.5 780.8 173 780.9C172.5 781.1 172.3 781.6 171.9 782C171.4 782.4 170.8 783 170.2 783.5C169.7 784 169.1 784.4 168.6 785C168.1 785.5 167.5 786 167 786.5C166.5 787 165.9 787.6 165.4 788C165 788.5 164.5 788.8 164.3 789.1C164.1 789.5 164.1 789.8 164.2 790C164.4 790.1 164.7 790.2 165.1 790.1C165.4 789.9 165.9 789.6 166.4 789.2C166.9 788.8 167.6 788.4 168.2 787.9C168.8 787.5 169.4 787.1 170 786.6C170.6 786.2 171.2 785.8 171.8 785.3C172.4 784.9 173 784.4 173.5 784C174 783.6 174.6 783.6 174.8 783.1C175 782.6 175.3 781.5 175 781.1Z"/>
<path d="M184 782.5C183.6 782.2 182.4 782.4 182 782.5C181.6 782.7 181.7 783 181.5 783.2C181.3 783.5 181 783.9 180.7 784.2C180.5 784.5 180.2 784.8 179.9 785.1C179.7 785.5 179.5 785.8 179.2 786.2C179 786.5 178.7 786.9 178.5 787.2C178.3 787.4 178.1 787.6 178.1 787.9C178 788.2 177.9 788.6 178.1 788.7C178.2 788.9 178.7 788.8 178.9 788.7C179.2 788.6 179.4 788.4 179.6 788.2C179.9 788 180.3 787.7 180.6 787.4C180.9 787.2 181.2 786.9 181.6 786.7C181.9 786.4 182.2 786.1 182.5 785.8C182.8 785.6 183.1 785.2 183.4 785C183.6 784.8 183.9 784.9 184 784.5C184.1 784 184.3 782.8 184 782.5Z"/>
<path d="M145.5 696.8C148.5 694 157.1 684.3 163.6 679.8C170.1 675.3 181.2 671.5 184.7 669.8" fill="none" stroke="#2a2a2a" stroke-width="1.7" stroke-linecap="round"/>
<path d="M210.9 707Q219.9 724 223.6 742.8" fill="none" stroke="#444" stroke-width="1.7" stroke-linecap="round"/>
<path d="M147.4 750.2Q152.6 749.4 157.8 748.5" fill="none" stroke="#444" stroke-width="2" stroke-linecap="round"/>
<path d="M209.7 762.4Q214.3 765.8 218.9 769.3" fill="none" stroke="#555" stroke-width="1.6" stroke-linecap="round"/>
<path d="M213.2 793.6Q216.6 790.1 220.1 786.6" fill="none" stroke="#666" stroke-width="1.6" stroke-linecap="round"/>
<path d="M403 759.1C402.3 758.5 400.2 758.7 399.1 759.4C397.9 760 397.3 761.4 396.1 762.8C395 764.1 393.4 766 391.9 767.5C390.4 769 388.8 770.4 387 771.7C385.2 773 383.2 774 381.1 775.1C378.9 776.3 376.5 777.4 374.2 778.3C371.8 779.3 369.4 780.1 367 780.9C364.6 781.6 362.2 782.3 359.7 782.8C357.2 783.4 354.6 783.9 352.2 784.2C349.7 784.4 347.4 784.7 344.8 784.6C342.2 784.5 339.5 784.2 336.8 783.8C334.1 783.3 331 782.5 328.7 782C326.4 781.5 324.2 780.8 323 780.7C321.8 780.7 321.6 781.3 321.4 781.7C321.3 782.1 321.3 782.7 322.4 783.3C323.5 783.8 325.7 784.3 328 785C330.3 785.6 333.4 786.6 336.1 787.2C338.9 787.8 341.9 788.4 344.6 788.6C347.3 788.8 349.9 788.6 352.6 788.4C355.3 788.2 358 787.8 360.6 787.3C363.2 786.8 365.8 786.2 368.4 785.5C370.9 784.8 373.5 783.9 376 783C378.5 782 381.1 780.9 383.4 779.8C385.8 778.6 388 777.5 390 776.1C392.1 774.7 394 773 395.7 771.4C397.4 769.8 399 767.9 400.3 766.5C401.5 765.1 402.8 764.3 403.3 763C403.8 761.8 403.7 759.7 403 759.1Z"/>
<path d="M398.8 763.9C398.9 764.3 399.4 764.9 400.5 764.8C401.5 764.8 403.1 764 404.9 763.5C406.7 763 409.2 762.3 411.3 761.6C413.5 760.9 415.6 760.2 417.8 759.4C419.9 758.6 422.1 757.6 424.2 756.6C426.3 755.6 428.7 754.4 430.5 753.5C432.3 752.7 434.2 751.8 434.9 751.3C435.7 750.8 435.3 750.7 435.2 750.6C435.2 750.4 435.3 750 434.5 750.3C433.6 750.5 431.7 751.4 429.9 752.1C428.1 752.9 425.6 754 423.4 754.9C421.3 755.7 419.2 756.6 417 757.3C414.9 758.1 412.8 758.7 410.6 759.3C408.5 759.9 406.1 760.5 404.2 761C402.4 761.5 400.6 761.7 399.7 762.2C398.8 762.6 398.6 763.4 398.8 763.9Z"/>
<path d="M396.4 770.5C396.4 770.9 396.5 771.7 397.8 771.9C399 772.1 401.3 771.9 403.7 771.9C406.2 772 409.5 772 412.3 772C415.2 771.9 418.1 771.9 420.9 771.6C423.8 771.4 426.7 770.9 429.5 770.4C432.4 770 435.6 769.3 438.1 768.8C440.5 768.3 442.9 767.9 444 767.6C445.1 767.3 444.5 767.1 444.5 766.9C444.5 766.7 444.9 766.3 443.8 766.4C442.7 766.5 440.2 766.9 437.8 767.3C435.4 767.7 432.1 768.2 429.3 768.6C426.4 768.9 423.6 769.3 420.8 769.5C417.9 769.6 415.1 769.6 412.3 769.6C409.5 769.6 406.2 769.4 403.8 769.3C401.4 769.3 399.1 768.9 397.8 769.1C396.6 769.3 396.4 770 396.4 770.5Z"/>
<path d="M388.3 777.1C388.2 777.6 388.4 778.3 389.4 778.8C390.4 779.2 392.3 779.3 394.2 779.7C396.2 780.1 398.8 780.6 401.1 781C403.4 781.4 405.7 781.9 408 782.1C410.3 782.4 412.6 782.6 414.9 782.7C417.2 782.9 419.8 783 421.8 783.1C423.7 783.2 425.6 783.4 426.6 783.3C427.5 783.2 427.2 782.9 427.2 782.7C427.2 782.5 427.5 782.3 426.6 782.1C425.8 781.9 423.8 781.8 421.9 781.6C419.9 781.4 417.3 781.2 415.1 780.9C412.8 780.6 410.6 780.3 408.3 780C406.1 779.6 403.8 779.1 401.5 778.7C399.3 778.2 396.7 777.6 394.8 777.1C392.8 776.7 391.1 776 390 776C388.9 776 388.4 776.7 388.3 777.1Z"/>
<path d="M380.4 782.5C380.2 782.9 380.4 783.8 380.9 784.4C381.4 784.9 382.3 785.2 383.3 785.8C384.3 786.3 385.7 787.1 386.8 787.8C388 788.4 389.2 789 390.4 789.6C391.5 790.1 392.7 790.6 393.9 791C395.1 791.4 396.4 791.9 397.4 792.2C398.4 792.5 399.3 792.9 399.9 793C400.4 793 400.6 792.8 400.7 792.6C400.7 792.4 400.8 792.1 400.3 791.8C399.9 791.5 398.9 791.2 398 790.8C397 790.3 395.7 789.8 394.6 789.3C393.5 788.7 392.4 788.2 391.3 787.6C390.2 787 389.1 786.4 388 785.7C386.9 785 385.6 784.2 384.7 783.5C383.7 782.9 383 782.2 382.3 782C381.6 781.8 380.6 782.1 380.4 782.5Z"/>
<path d="M370.2 785.6C369.9 785.9 370 787.1 370.2 787.6C370.4 788.1 370.9 788.2 371.3 788.6C371.8 789 372.4 789.5 372.9 790C373.4 790.5 373.9 791 374.5 791.4C375 791.9 375.6 792.3 376.1 792.8C376.6 793.3 377.2 793.8 377.7 794.2C378.2 794.6 378.5 795 378.9 795.1C379.2 795.3 379.6 795.3 379.7 795.1C379.9 795 379.9 794.6 379.7 794.3C379.6 793.9 379.2 793.6 378.8 793.1C378.4 792.6 377.9 792 377.4 791.5C376.9 791 376.5 790.4 376 789.9C375.6 789.3 375.1 788.8 374.6 788.3C374.1 787.8 373.6 787.2 373.2 786.7C372.8 786.3 372.7 785.8 372.2 785.6C371.7 785.4 370.5 785.3 370.2 785.6Z"/>
<path d="M360 786.7C359.6 787 359.6 788.2 359.7 788.6C359.7 789.1 360 789 360.2 789.2C360.4 789.4 360.7 789.7 360.9 790C361.2 790.2 361.4 790.5 361.7 790.8C361.9 791 362.2 791.3 362.5 791.5C362.7 791.8 363 792.1 363.2 792.3C363.5 792.5 363.6 792.7 363.8 792.8C364.1 792.9 364.5 793 364.7 792.9C364.8 792.8 364.8 792.3 364.8 792C364.7 791.8 364.6 791.6 364.5 791.3C364.3 791.1 364.1 790.7 363.9 790.4C363.8 790.1 363.6 789.7 363.4 789.4C363.2 789.1 363 788.8 362.9 788.5C362.7 788.2 362.4 787.9 362.3 787.6C362.1 787.3 362.3 787.1 361.9 787C361.5 786.8 360.3 786.4 360 786.7Z"/>
<path d="M358.4 675.4C361.2 676.6 370.2 679.4 375.4 682.4C380.6 685.4 385.7 690.3 389.4 693.6C393.1 696.9 396.2 700.9 397.6 702.4" fill="none" stroke="#2a2a2a" stroke-width="1.7" stroke-linecap="round"/>
<path d="M332.6 712.7Q323.9 729.1 320.4 747.4" fill="none" stroke="#444" stroke-width="1.7" stroke-linecap="round"/>
<path d="M386.2 753.6Q390.9 754.5 395.5 755.5" fill="none" stroke="#444" stroke-width="2" stroke-linecap="round"/>
<path d="M325 773.9Q329.3 771.4 333.6 768.9" fill="none" stroke="#555" stroke-width="1.6" stroke-linecap="round"/>
<path d="M323.9 792.4Q326.8 795.3 329.6 798.2" fill="none" stroke="#666" stroke-width="1.6" stroke-linecap="round"/>
</g>
</g>
</g>
</svg>
</body>
</html>
